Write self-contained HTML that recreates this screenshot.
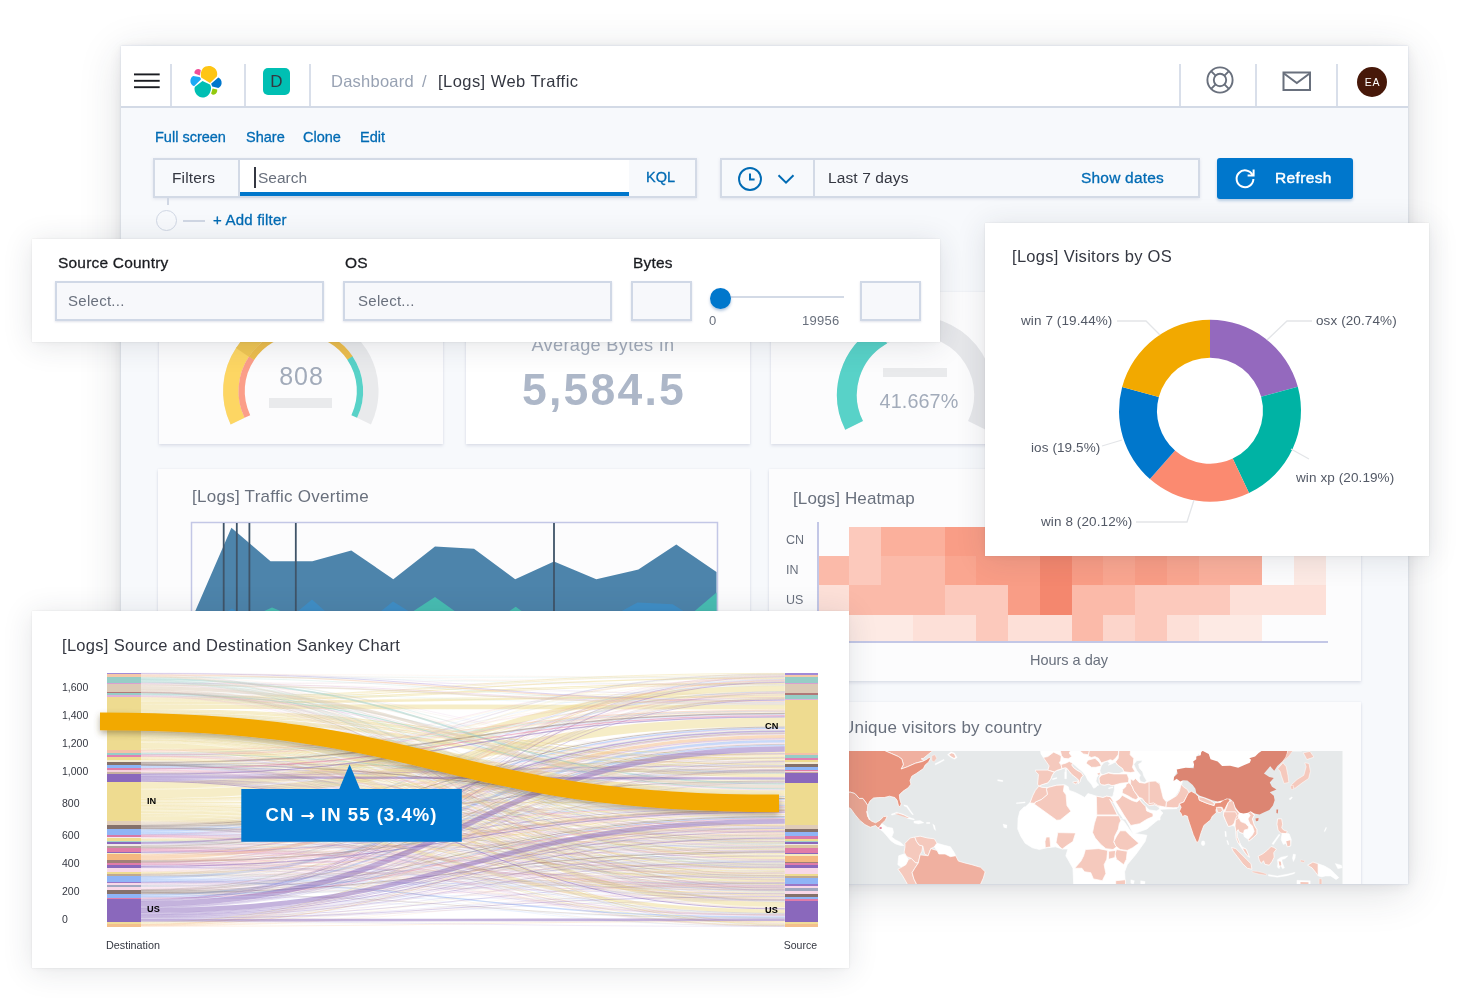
<!DOCTYPE html>
<html lang="en">
<head>
<meta charset="utf-8">
<title>[Logs] Web Traffic - Dashboard</title>
<style>
*{box-sizing:border-box;margin:0;padding:0}
html,body{width:1460px;height:1000px;background:#fff;overflow:hidden}
body{position:relative;font-family:"Liberation Sans",sans-serif;color:#343741;-webkit-font-smoothing:antialiased}
.abs{position:absolute}
.t{position:absolute;white-space:nowrap;line-height:1;will-change:transform}
.win{position:absolute;left:121px;top:46px;width:1287px;height:838px;background:#f7f9fc;overflow:hidden}
.winshadow{position:absolute;left:121px;top:46px;width:1287px;height:838px;box-shadow:0 0 2px rgba(165,180,212,.5),0 8px 40px rgba(40,45,60,.15),0 2px 12px rgba(40,45,60,.07)}
.inner{position:absolute;left:-121px;top:-46px;width:1460px;height:1000px}
.hdr{position:absolute;left:121px;top:46px;width:1287px;height:60px;background:#fff}
.hdrline{position:absolute;left:121px;top:106px;width:1287px;height:2px;background:#d3dae6}
.vsep{position:absolute;width:2px;top:64px;height:42px;background:#d9dfea}
.link{color:#006bb4;font-size:14.5px;-webkit-text-stroke:.3px #006bb4}
.panel{position:absolute;background:#fcfcfd;box-shadow:0 2px 3px rgba(130,140,170,.2),0 0 2px rgba(130,140,170,.12)}
.float{position:absolute;background:#fff;box-shadow:0 0 1px rgba(90,95,110,.2),0 3px 28px rgba(40,45,60,.125),0 1px 6px rgba(40,45,60,.04)}
.ptitle{font-size:16.5px;color:#69707d}
.box{position:absolute;background:#f7f8fb;border:2px solid #d0d8e6;box-shadow:0 1px 2px rgba(130,140,170,.25)}
</style>
</head>
<body>
<div class="winshadow"></div>
<div class="win"><div class="inner">
<!-- header -->
<div class="hdr"></div><div class="hdrline"></div>
<svg class="abs" style="left:134px;top:72px" width="26" height="18" viewBox="0 0 26 18"><g stroke="#1a1c21" stroke-width="1.9"><line x1="0" y1="2.4" x2="25.7" y2="2.4"/><line x1="0" y1="8.8" x2="25.7" y2="8.8"/><line x1="0" y1="15.2" x2="25.7" y2="15.2"/></g></svg>
<div class="vsep" style="left:170px"></div>
<div class="vsep" style="left:244px"></div>
<div class="vsep" style="left:309px"></div>
<svg class="abs" style="left:184px;top:60px" width="44" height="44" viewBox="0 0 44 44">
<path d="M17.2 17.6C16.3 14 16.9 10.6 19 8.3C21.6 5.4 27 5 30.5 8C33 10.2 33.9 13.6 32.8 16.6L26 22.9Z" fill="#fec514"/>
<path d="M18.5 21.1L26 24.6C27 26 27.3 28 26.7 30.5C25.6 35 22 37.8 18.5 37.6C14 37.3 10.3 33 10.5 28.2L11 26.8Z" fill="#00bfb3"/>
<path d="M10.6 13.6C9.9 11.5 11.4 9.4 14 9C15.5 8.8 16.5 9.6 16.8 10.6L15.8 15.4Z" fill="#f04e98"/>
<path d="M9.2 16.1L15.4 16.9C16.5 17.5 17 18.5 16.9 19.4L10.1 26.2C8 25.5 6.3 23.2 6.4 21C6.5 18.6 7.6 16.8 9.2 16.1Z" fill="#1ba9f5"/>
<path d="M34.3 17.6C36.5 18.5 37.9 21 37.6 23.6C37.4 25.6 36 27.3 34.3 27.9L28.2 26.4L27.1 23.8Z" fill="#0077cc"/>
<path d="M28.6 28.6L33.2 29.5C33.6 31.5 32.5 33.8 30.5 34.6C29.3 35 28 34.5 27.1 33.4Z" fill="#93c90e"/>
</svg>
<div class="abs" style="left:263px;top:68px;width:27px;height:27px;border-radius:5px;background:#00bfb3"></div>
<div class="t" style="left:263px;top:73px;width:27px;text-align:center;font-size:17px;color:#343741">D</div>
<div class="t" id="bc1" style="left:331px;top:73px;font-size:16.5px;color:#98a2b3;letter-spacing:.25px">Dashboard</div>
<div class="t" style="left:422px;top:73px;font-size:16.5px;color:#98a2b3">/</div>
<div class="t" id="bc2" style="left:438px;top:73px;font-size:16.5px;color:#343741;letter-spacing:.45px">[Logs] Web Traffic</div>
<div class="vsep" style="left:1179px"></div>
<div class="vsep" style="left:1255px"></div>
<div class="vsep" style="left:1336px"></div>
<svg class="abs" style="left:1204px;top:64px" width="32" height="32" viewBox="0 0 32 32" fill="none" stroke="#69707d" stroke-width="1.9">
<circle cx="16" cy="16" r="12.6"/><circle cx="16" cy="16" r="6.2"/>
<path d="M7.1 7.1l4.5 4.5M24.9 7.1l-4.5 4.5M7.1 24.9l4.5-4.5M24.9 24.9l-4.5-4.5"/>
</svg>
<svg class="abs" style="left:1282px;top:70.5px" width="30" height="22" viewBox="0 0 30 22" fill="none" stroke="#69707d" stroke-width="2">
<rect x="1.5" y="1.5" width="26.5" height="17.5"/><path d="M2 2.5l12.8 9.6L27.6 2.5"/>
</svg>
<div class="abs" style="left:1357px;top:66.5px;width:30px;height:30px;border-radius:50%;background:#471809"></div>
<div class="t" style="left:1357px;top:76.5px;width:30px;text-align:center;font-size:10.5px;color:#fff;letter-spacing:.8px;padding-left:1px">EA</div>
<!-- toolbar -->
<div class="t link" style="left:155px;top:130px" id="l1">Full screen</div>
<div class="t link" style="left:246px;top:130px" id="l2">Share</div>
<div class="t link" style="left:303px;top:130px" id="l3">Clone</div>
<div class="t link" style="left:360px;top:130px" id="l4">Edit</div>
<!-- query bar -->
<div class="abs" style="left:153px;top:158px;width:544px;height:40px;background:#f7f9fc;border:2px solid #d3dae6;box-shadow:0 1px 3px rgba(120,130,160,.18)"></div>
<div class="abs" style="left:239px;top:160px;width:390px;height:36px;background:#fff"></div>
<div class="abs" style="left:238px;top:160px;width:2px;height:36px;background:#d3dae6"></div>
<div class="abs" style="left:240px;top:192px;width:389px;height:4px;background:#0077cc"></div>
<div class="abs" style="left:254px;top:167px;width:2px;height:20.5px;background:#343741"></div>
<div class="t" style="left:172px;top:170px;font-size:15.5px;color:#343741;letter-spacing:.15px">Filters</div>
<div class="t" style="left:258px;top:170px;font-size:15.5px;color:#69707d">Search</div>
<div class="t" style="left:646px;top:170px;font-size:14.5px;color:#006bb4;-webkit-text-stroke:.3px #006bb4">KQL</div>
<div class="abs" style="left:166.8px;top:198px;width:1.8px;height:7px;background:#d0d7e4"></div>
<div class="abs" style="left:156px;top:210px;width:21px;height:21px;border-radius:50%;border:1.8px solid #d0d7e4;background:#f7f9fc"></div>
<div class="abs" style="left:183px;top:219.8px;width:22px;height:1.8px;background:#d0d7e4"></div>
<div class="t link" style="left:213px;top:211.7px;font-size:15px;letter-spacing:.2px">+ Add filter</div>
<!-- date picker -->
<div class="abs" style="left:720px;top:158px;width:480px;height:40px;background:#f7f9fc;border:2px solid #d3dae6;box-shadow:0 1px 3px rgba(120,130,160,.18)"></div>
<div class="abs" style="left:813px;top:160px;width:2px;height:36px;background:#d3dae6"></div>
<svg class="abs" style="left:736px;top:165px" width="28" height="28" viewBox="0 0 28 28" fill="none" stroke="#006bb4" stroke-width="1.9"><circle cx="14" cy="14" r="11"/><path d="M14 8.5v6h4.6" stroke-width="2"/></svg>
<svg class="abs" style="left:777px;top:173px" width="18" height="12" viewBox="0 0 18 12" fill="none" stroke="#006bb4" stroke-width="2"><path d="M1.5 2.2l7.5 7.4 7.5-7.4"/></svg>
<div class="t" style="left:828px;top:170px;font-size:15.5px;color:#343741;letter-spacing:.12px">Last 7 days</div>
<div class="t" style="left:1081px;top:170px;font-size:15.5px;color:#006bb4;letter-spacing:.2px;-webkit-text-stroke:.3px #006bb4">Show dates</div>
<div class="abs" style="left:1217px;top:158px;width:136px;height:40.5px;border-radius:3px;background:#0077cc;box-shadow:0 2px 3px rgba(0,80,160,.25)"></div>
<svg class="abs" style="left:1233px;top:166px" width="24" height="24" viewBox="0 0 24 24" fill="none" stroke="#fff" stroke-width="2"><path d="M19.6 9.2A8.4 8.4 0 1 0 20.4 13"/><path d="M20.6 3.5v6h-6" stroke-linejoin="miter"/></svg>
<div class="t" style="left:1275px;top:169.5px;font-size:15.5px;color:#fff;-webkit-text-stroke:.45px #fff;letter-spacing:.35px" id="refresh">Refresh</div>
<div class="panel" style="left:159px;top:292px;width:284px;height:151.5px"></div>
<div class="panel" style="left:466px;top:292px;width:284px;height:151.5px;background:#fff"></div>
<div class="panel" style="left:771px;top:292px;width:590px;height:151.5px"></div>
<svg class="abs" style="left:0;top:0" width="1460" height="1000" viewBox="0 0 1460 1000"><path d="M237.62 421.14A70.0 70.0 0 1 1 363.98 421.14" stroke="#e9eaec" stroke-width="15.5" fill="none"/><path d="M237.62 421.14A70.0 70.0 0 0 1 242.77 351.86" stroke="#fdd663" stroke-width="15.5" fill="none"/><path d="M242.43 352.36A70.0 70.0 0 0 1 335.80 330.38" stroke="#efc552" stroke-width="15.5" fill="none"/><path d="M247.37 416.49A59.2 59.2 0 0 1 251.72 357.90" stroke="#fb9e89" stroke-width="6.3" fill="none"/><path d="M251.43 358.33A59.2 59.2 0 0 1 350.17 358.33" stroke="#ecbd4c" stroke-width="6.3" fill="none"/><path d="M349.88 357.90A59.2 59.2 0 0 1 354.23 416.49" stroke="#58d2c8" stroke-width="6.3" fill="none"/><path d="M854.11 425.41A68.6 68.6 0 1 1 976.89 425.41" stroke="#e6e7ea" stroke-width="19.8" fill="none"/><path d="M854.11 425.41A68.6 68.6 0 0 1 882.24 334.80" stroke="#58d2c8" stroke-width="19.8" fill="none"/></svg>
<div class="t" style="left:250.8px;top:363.8px;width:100px;text-align:center;font-size:25px;color:#a2abba;letter-spacing:.95px;padding-left:1px">808</div>
<div class="abs" style="left:269px;top:398px;width:63px;height:9.8px;background:#e9eaec"></div>
<div class="abs" style="left:883px;top:368px;width:64px;height:9px;background:#e9eaec"></div>
<div class="t" style="left:859px;top:391.5px;width:120px;text-align:center;font-size:19.8px;color:#a2abba;letter-spacing:.1px">41.667%</div>
<div class="t" style="left:503px;top:335.5px;width:200px;text-align:center;font-size:18.2px;color:#a2abba;letter-spacing:.3px">Average Bytes In</div>
<div class="t" style="left:453px;top:368.2px;width:300px;text-align:center;font-size:44.5px;font-weight:bold;color:#adb7c8;letter-spacing:2.2px;padding-left:2px">5,584.5</div>
<div class="panel" style="left:157.5px;top:469px;width:592.5px;height:220px"></div>
<div class="t ptitle" style="left:191.5px;top:487.5px;font-size:17px;letter-spacing:.27px" id="tt1">[Logs] Traffic Overtime</div>
<svg class="abs" style="left:0;top:0" width="1460" height="700" viewBox="0 0 1460 700"><rect x="191.5" y="522.5" width="526" height="140" fill="none" stroke="#c3c7e6" stroke-width="1.5"/><polygon points="195.3,611 231.4,527.8 270.5,561.2 312.3,561.2 351.3,550.5 393.3,579.2 435,546.6 474,548.8 515.2,579.3 554,561.5 596.3,579.3 638.4,569.6 676.3,544.4 716.5,572 716.5,660 186,660 " fill="#4d84ab"/><polygon points="226,612 231.8,608.6 238,612" fill="#3f8ec6"/><polygon points="297,612 312,599.4 326,612" fill="#3f8ec6"/><polygon points="380,612 393,601.6 410,612" fill="#3f8ec6"/><polygon points="620,612 637.6,602.4 672.7,604.2 685,612" fill="#3f8ec6"/><polygon points="262,612 272,607.6 283,612" fill="#47bdb2"/><polygon points="412,612 435,597 456,612" fill="#47bdb2"/><polygon points="508,612 515.7,606.8 523,612" fill="#47bdb2"/><polygon points="693.5,612 716.5,592.5 716.5,640 693.5,640" fill="#47bdb2"/><line x1="223.7" y1="523" x2="223.7" y2="640" stroke="#3f5468" stroke-width="1.8"/><line x1="236.8" y1="523" x2="236.8" y2="640" stroke="#3f5468" stroke-width="1.8"/><line x1="249.4" y1="523" x2="249.4" y2="640" stroke="#3f5468" stroke-width="1.8"/><line x1="295.8" y1="523" x2="295.8" y2="640" stroke="#3f5468" stroke-width="1.8"/><line x1="554" y1="523" x2="554" y2="640" stroke="#3f5468" stroke-width="1.8"/></svg>
<div class="panel" style="left:769px;top:469px;width:592px;height:212px"></div>
<div class="t ptitle" style="left:793px;top:489.5px;font-size:17px;letter-spacing:.13px" id="tt2">[Logs] Heatmap</div>
<div class="t" style="left:786px;top:534px;font-size:12.5px;color:#69707d">CN</div>
<div class="t" style="left:786px;top:564px;font-size:12.5px;color:#69707d">IN</div>
<div class="t" style="left:786px;top:594px;font-size:12.5px;color:#69707d">US</div>
<div class="t" style="left:969px;top:653px;width:200px;text-align:center;font-size:14.5px;color:#69707d" id="hours">Hours a day</div>
<svg class="abs" style="left:0;top:0" width="1460" height="700" viewBox="0 0 1460 700" shape-rendering="crispEdges"><rect x="849.35" y="526.5" width="32.05" height="29.80" fill="#fcc9bc"/><rect x="881.10" y="526.5" width="32.05" height="29.80" fill="#fbb09c"/><rect x="912.85" y="526.5" width="32.05" height="29.80" fill="#fbb09c"/><rect x="944.60" y="526.5" width="32.05" height="29.80" fill="#f99d86"/><rect x="976.35" y="526.5" width="32.05" height="29.80" fill="#f99d86"/><rect x="1008.10" y="526.5" width="32.05" height="29.80" fill="#f99d86"/><rect x="1039.85" y="526.5" width="32.05" height="29.80" fill="#f99d86"/><rect x="1071.60" y="526.5" width="32.05" height="29.80" fill="#f99d86"/><rect x="1103.35" y="526.5" width="32.05" height="29.80" fill="#f99d86"/><rect x="1135.10" y="526.5" width="32.05" height="29.80" fill="#f99d86"/><rect x="1166.85" y="526.5" width="32.05" height="29.80" fill="#f99d86"/><rect x="1198.60" y="526.5" width="32.05" height="29.80" fill="#f99d86"/><rect x="1230.35" y="526.5" width="32.05" height="29.80" fill="#f99d86"/><rect x="1262.10" y="526.5" width="32.05" height="29.80" fill="#f99d86"/><rect x="1293.85" y="526.5" width="32.05" height="29.80" fill="#f99d86"/><rect x="817.60" y="556" width="32.05" height="29.60" fill="#fbbaa9"/><rect x="849.35" y="556" width="32.05" height="29.60" fill="#fcc9bc"/><rect x="881.10" y="556" width="32.05" height="29.60" fill="#fbbaa9"/><rect x="912.85" y="556" width="32.05" height="29.60" fill="#fbbaa9"/><rect x="944.60" y="556" width="32.05" height="29.60" fill="#faa690"/><rect x="976.35" y="556" width="32.05" height="29.60" fill="#f99d86"/><rect x="1008.10" y="556" width="32.05" height="29.60" fill="#f99d86"/><rect x="1039.85" y="556" width="32.05" height="29.60" fill="#f4876e"/><rect x="1071.60" y="556" width="32.05" height="29.60" fill="#f99d86"/><rect x="1103.35" y="556" width="32.05" height="29.60" fill="#faa690"/><rect x="1135.10" y="556" width="32.05" height="29.60" fill="#f99d86"/><rect x="1166.85" y="556" width="32.05" height="29.60" fill="#faa690"/><rect x="1198.60" y="556" width="32.05" height="29.60" fill="#fbb09c"/><rect x="1230.35" y="556" width="32.05" height="29.60" fill="#fbb09c"/><rect x="1293.85" y="556" width="32.05" height="29.60" fill="#fdeae4"/><rect x="817.60" y="585.3" width="32.05" height="29.80" fill="#fde0d8"/><rect x="849.35" y="585.3" width="32.05" height="29.80" fill="#fbbaa9"/><rect x="881.10" y="585.3" width="32.05" height="29.80" fill="#fbbaa9"/><rect x="912.85" y="585.3" width="32.05" height="29.80" fill="#fbbaa9"/><rect x="944.60" y="585.3" width="32.05" height="29.80" fill="#fcc9bc"/><rect x="976.35" y="585.3" width="32.05" height="29.80" fill="#fcc9bc"/><rect x="1008.10" y="585.3" width="32.05" height="29.80" fill="#f99d86"/><rect x="1039.85" y="585.3" width="32.05" height="29.80" fill="#f4876e"/><rect x="1071.60" y="585.3" width="32.05" height="29.80" fill="#fbbaa9"/><rect x="1103.35" y="585.3" width="32.05" height="29.80" fill="#fbbaa9"/><rect x="1135.10" y="585.3" width="32.05" height="29.80" fill="#fcc9bc"/><rect x="1166.85" y="585.3" width="32.05" height="29.80" fill="#fcc9bc"/><rect x="1198.60" y="585.3" width="32.05" height="29.80" fill="#fcc9bc"/><rect x="1230.35" y="585.3" width="32.05" height="29.80" fill="#fde0d8"/><rect x="1262.10" y="585.3" width="32.05" height="29.80" fill="#fde0d8"/><rect x="1293.85" y="585.3" width="32.05" height="29.80" fill="#fde0d8"/><rect x="817.60" y="614.8" width="32.05" height="27.50" fill="#fdeae4"/><rect x="849.35" y="614.8" width="32.05" height="27.50" fill="#fdeae4"/><rect x="881.10" y="614.8" width="32.05" height="27.50" fill="#fdeae4"/><rect x="912.85" y="614.8" width="32.05" height="27.50" fill="#fde0d8"/><rect x="944.60" y="614.8" width="32.05" height="27.50" fill="#fde0d8"/><rect x="976.35" y="614.8" width="32.05" height="27.50" fill="#fcc9bc"/><rect x="1008.10" y="614.8" width="32.05" height="27.50" fill="#fde0d8"/><rect x="1039.85" y="614.8" width="32.05" height="27.50" fill="#fde0d8"/><rect x="1071.60" y="614.8" width="32.05" height="27.50" fill="#fbbaa9"/><rect x="1103.35" y="614.8" width="32.05" height="27.50" fill="#fcd5cb"/><rect x="1135.10" y="614.8" width="32.05" height="27.50" fill="#fcc9bc"/><rect x="1166.85" y="614.8" width="32.05" height="27.50" fill="#fde0d8"/><rect x="1198.60" y="614.8" width="32.05" height="27.50" fill="#fdeae4"/><rect x="1230.35" y="614.8" width="32.05" height="27.50" fill="#fdeae4"/><line x1="817.6" y1="522" x2="817.6" y2="642" stroke="#c3c7e6" stroke-width="2"/><line x1="817" y1="642.3" x2="1328" y2="642.3" stroke="#c3c7e6" stroke-width="2"/></svg>
<div class="panel" style="left:769px;top:702px;width:592px;height:230px"></div>
<div class="t ptitle" style="left:842px;top:718.5px;font-size:17px;letter-spacing:.2px" id="tt3">Unique visitors by country</div>
<svg class="abs" style="left:770px;top:751px" width="572.5" height="134" viewBox="770 751 572.5 134">
<rect x="770" y="751" width="572.5" height="134" fill="#e6e9ea"/>
<g transform="translate(1040,740) scale(0.178082)" stroke="#fff" stroke-width="4" stroke-linejoin="round">
<polygon points="-63.0,355.0 -38.0,320.0 -13.0,290.0 27.0,262.0 137.0,248.0 420.0,248.0 470.0,300.0 560.0,330.0 600.0,380.0 640.0,420.0 660.0,380.0 690.0,410.0 660.0,450.0 600.0,500.0 530.0,525.0 600.0,535.0 590.0,570.0 540.0,640.0 490.0,700.0 475.0,740.0 480.0,830.0 190.0,830.0 185.0,720.0 145.0,650.0 157.0,612.0 127.0,612.0 87.0,600.0 37.0,605.0 -3.0,615.0 -43.0,605.0 -83.0,580.0 -108.0,540.0 -125.0,500.0 -123.0,440.0 -113.0,400.0 -88.0,375.0" fill="#ffffff"/>
<polygon points="-1.1,48.1 673.9,48.1 673.9,449.1 -1.1,449.1" fill="#ffffff"/>
<polygon points="660.0,40.0 1470.0,40.0 1470.0,62.0 1260.0,62.0 900.0,62.0 880.0,90.0 875.0,120.0 860.0,150.0 790.0,160.0 765.0,180.0 750.0,210.0 770.0,225.0 800.0,230.0 795.0,250.0 770.0,300.0 745.0,330.0 705.0,345.0 715.0,375.0 770.0,385.0 660.0,390.0" fill="#ffffff"/>
<polygon points="880.0,40.0 1395.0,40.0 1390.0,70.0 1300.0,150.0 1120.0,170.0 1000.0,150.0 900.0,100.0" fill="#ffffff"/>
<polygon points="987.6,348.1 1027.7,338.1 1052.7,328.1 1067.7,343.1 1052.7,378.1 1017.6,378.1 990.1,378.1" fill="#ffffff"/>
<polygon points="1032.6,393.1 1207.6,393.1 1202.6,423.1 1192.6,443.1 1202.6,478.1 1217.6,503.1 1217.6,528.0 1197.6,548.0 1172.6,568.0 1170.1,558.0 1147.6,543.0 1142.6,525.5 1120.1,518.0 1112.6,503.1 1105.1,513.0 1107.6,543.0 1115.1,563.0 1125.1,585.5 1137.6,603.0 1157.6,613.0 1167.6,638.0 1175.1,658.0 1162.6,648.0 1147.6,628.0 1132.6,608.0 1112.6,578.0 1102.6,553.0 1100.1,513.0 1095.1,483.1 1077.6,480.6 1057.6,485.6 1042.6,453.1 1030.1,423.1" fill="#ffffff"/>
<polygon points="-56.1,48.1 -1.1,48.1 3.9,78.1 18.9,100.6 41.4,95.6 51.4,145.6 43.9,169.1 -26.1,169.1 -36.1,178.1 -38.6,228.1 -33.6,248.1 -6.1,259.1 -26.1,283.1 -41.1,313.1 -56.1,348.1 -86.2,378.1 -86.2,48.1" fill="#e6e9ea" stroke-width="0"/>
<polygon points="-6.1,259.1 8.9,251.6 43.9,240.6 59.9,220.6 68.8,198.1 79.8,180.6 93.8,172.1 118.8,164.1 141.3,155.6 151.3,159.1 163.8,175.6 178.8,193.1 203.8,213.1 217.8,225.6 214.8,244.1 223.8,235.6 231.3,210.6 242.8,200.6 231.3,183.1 208.8,170.6 188.8,155.6 177.8,140.6 178.8,130.6 188.8,135.6 208.8,153.1 238.8,178.1 256.4,200.6 268.9,225.6 288.9,248.1 301.4,270.6 316.4,263.1 323.9,248.1 313.9,230.6 318.9,210.6 328.9,195.6 338.9,190.6 331.4,213.1 333.9,238.1 343.9,250.6 363.9,253.1 383.9,248.1 403.9,255.6 418.9,253.1 417.9,278.1 411.4,308.1 406.4,320.6 393.9,318.1 373.9,315.6 353.9,323.1 316.4,315.6 293.9,308.1 268.9,300.6 251.3,323.1 223.8,308.1 193.8,293.1 163.8,283.1 158.8,263.1 141.3,253.1 136.3,252.1 93.8,254.1 58.9,263.1 38.9,268.1 8.9,265.6" fill="#e6e9ea"/>
<polygon points="343.9,145.6 358.9,125.6 378.9,118.1 393.9,133.1 383.9,140.6 398.9,135.6 423.9,123.1 436.4,140.6 463.9,160.6 471.4,178.1 443.9,188.1 413.9,188.1 383.9,183.1 353.9,195.6 338.9,188.1 336.4,170.6" fill="#e6e9ea"/>
<polygon points="526.4,135.6 543.9,115.6 573.9,113.1 571.4,125.6 553.9,135.6 558.9,158.1 576.4,178.1 583.9,203.1 598.9,228.1 588.9,240.6 563.9,233.1 556.4,213.1 563.9,198.1 543.9,173.1 533.9,153.1" fill="#e6e9ea"/>
<polygon points="388.9,333.1 398.9,328.1 411.4,348.1 443.9,408.1 468.9,443.1 483.9,453.1 453.9,453.1 436.4,423.1 418.9,388.1 398.9,353.1" fill="#e6e9ea"/>
<polygon points="440.0,440.0 480.0,445.0 500.0,480.0 525.0,530.0 505.0,505.0 470.0,455.0" fill="#e6e9ea"/>
<polygon points="558.9,333.1 573.9,328.1 588.9,348.1 613.9,368.1 643.9,363.1 663.9,373.1 673.9,388.1 653.9,398.1 613.9,393.1 593.9,373.1 573.9,353.1" fill="#e6e9ea"/>
<polygon points="138.8,178.1 148.8,178.1 148.8,218.1 138.8,218.1" fill="#ffffff" stroke-width="2"/>
<polygon points="141.3,162.1 148.8,162.1 148.8,177.1 142.3,177.1" fill="#ffffff" stroke-width="2"/>
<polygon points="293.9,248.1 328.9,249.1 328.9,256.1 293.9,255.1" fill="#ffffff" stroke-width="2"/>
<polygon points="383.9,269.1 408.9,263.1 409.9,268.1 386.4,274.1" fill="#ffffff" stroke-width="2"/>
<polygon points="68.8,218.1 93.8,210.6 94.8,215.6 71.3,223.1" fill="#ffffff" stroke-width="2"/>
<polygon points="18.9,98.1 43.9,93.1 76.3,68.1 108.8,83.1 118.8,93.1 116.3,115.6 108.8,128.1 118.8,140.6 123.8,160.6 93.8,170.6 79.8,179.6 51.4,170.6 43.9,169.1 51.4,145.6" fill="#f5c9bd"/>
<polygon points="-26.1,169.1 43.9,169.1 51.4,171.6 79.8,180.6 68.8,198.1 59.9,220.6 43.9,240.6 8.9,251.6 -6.1,259.1 -13.6,248.1 -8.6,193.1 -23.6,178.1" fill="#f5c9bd"/>
<polygon points="111.3,48.1 178.8,48.1 163.8,73.1 178.8,93.1 158.8,105.6 133.8,103.1 121.3,88.1" fill="#f5c9bd"/>
<polygon points="123.8,135.6 143.8,130.6 163.8,120.6 183.8,130.6 177.8,140.6 188.8,155.6 208.8,170.6 231.3,183.1 242.8,200.6 231.3,210.6 223.8,235.6 214.8,244.1 217.8,225.6 203.8,213.1 178.8,193.1 163.8,175.6 151.3,159.1 141.3,155.6 123.8,160.6 118.8,140.6" fill="#f5c9bd"/>
<polygon points="183.8,235.6 213.8,230.6 203.8,248.1 188.8,243.1" fill="#f5c9bd"/>
<polygon points="208.8,48.1 283.9,48.1 271.4,83.1 243.8,78.1" fill="#f5c9bd"/>
<polygon points="278.9,48.1 443.9,48.1 438.9,83.1 423.9,103.1 408.9,115.6 393.9,110.6 378.9,117.1 358.9,123.1 343.9,128.1 328.9,103.1 308.9,93.1 288.9,98.1 271.4,90.6" fill="#f5c9bd"/>
<polygon points="268.9,113.1 308.9,103.1 331.4,123.1 343.9,143.1 336.4,148.1 313.9,153.1 288.9,153.1 258.9,130.6" fill="#f5c9bd"/>
<polygon points="443.9,48.1 508.9,48.1 506.4,83.1 526.4,103.1 523.9,135.6 518.9,153.1 533.9,178.1 508.9,183.1 471.4,178.1 463.9,160.6 436.4,140.6 423.9,123.1 438.9,103.1" fill="#f5c9bd"/>
<polygon points="331.4,213.1 343.9,198.1 383.9,185.6 413.9,190.6 443.9,190.6 488.9,190.6 498.9,218.1 496.4,238.1 453.9,243.1 418.9,253.1 403.9,255.6 383.9,248.1 363.9,253.1 343.9,250.6 333.9,238.1" fill="#f5c9bd"/>
<polygon points="321.4,187.1 336.4,184.1 338.9,194.1 326.4,197.1" fill="#f5c9bd" stroke-width="2"/>
<polygon points="498.9,240.6 508.9,248.1 518.9,263.1 526.4,283.1 543.9,308.1 551.4,323.1 538.9,335.6 518.9,328.1 493.9,313.1 461.4,298.1 463.9,278.1 481.4,263.1 483.9,248.1" fill="#f5c9bd"/>
<polygon points="508.9,218.1 523.9,228.1 536.4,215.6 556.4,238.1 588.9,243.1 613.9,233.1 643.9,230.6 673.9,243.1 673.9,373.1 663.9,373.1 643.9,363.1 613.9,368.1 588.9,348.1 573.9,328.1 558.9,323.1 551.4,315.6 526.4,283.1 518.9,263.1 508.9,248.1" fill="#f5c9bd"/>
<polygon points="612.6,233.1 647.6,230.6 672.6,248.1 682.6,288.1 692.6,328.1 710.1,348.1 707.6,378.1 662.6,368.1 637.6,353.1 612.6,358.1" fill="#f5c9bd"/>
<polygon points="423.9,345.6 448.9,328.1 461.4,310.6 493.9,328.1 518.9,340.6 543.9,348.1 558.9,335.6 573.9,353.1 593.9,373.1 598.9,398.1 633.9,413.1 635.0,430.0 600.0,445.0 560.0,470.0 510.0,480.0 490.0,450.0 470.0,420.0 455.0,395.0" fill="#f5c9bd"/>
<polygon points="316.4,315.6 353.9,323.1 373.9,315.6 393.9,318.1 401.4,328.1 413.9,348.1 403.9,348.1 391.4,333.1 413.9,378.1 433.9,420.6 318.9,420.6" fill="#f5c9bd"/>
<polygon points="318.9,425.6 443.9,425.6 453.9,453.1 445.0,470.0 440.0,500.0 420.0,540.0 415.0,575.0 430.0,600.0 410.0,615.0 370.0,610.0 340.0,585.0 310.0,550.0 295.0,520.0 305.0,470.0" fill="#f5c9bd"/>
<polygon points="38.9,268.1 58.9,263.1 93.8,254.1 136.3,252.1 131.3,288.1 146.3,308.1 151.3,368.1 173.8,400.6 113.8,449.1 93.8,450.6 -31.1,360.6 -26.1,348.1 8.9,333.1 41.4,305.6 36.4,278.1" fill="#f5c9bd"/>
<polygon points="-6.1,259.1 8.9,265.6 38.9,268.1 36.4,278.1 41.4,305.6 8.9,333.1 -26.1,348.1 -31.1,355.6 -56.1,353.1 -41.1,313.1 -26.1,283.1" fill="#f5c9bd"/>
<polygon points="100.0,520.0 200.0,522.0 185.0,570.0 155.0,590.0 125.0,612.0 110.0,600.0 90.0,575.0" fill="#f5c9bd"/>
<polygon points="35.0,545.0 55.0,545.0 60.0,600.0 30.0,605.0 28.0,570.0" fill="#f5c9bd"/>
<polygon points="450.0,510.0 480.0,510.0 510.0,540.0 555.0,580.0 520.0,605.0 490.0,620.0 450.0,615.0 425.0,595.0 415.0,570.0 430.0,540.0" fill="#f5c9bd"/>
<polygon points="430.0,615.0 490.0,625.0 485.0,670.0 470.0,700.0 430.0,670.0 420.0,640.0" fill="#f5c9bd"/>
<polygon points="385.0,625.0 425.0,620.0 420.0,660.0 385.0,670.0" fill="#f5c9bd"/>
<polygon points="255.0,615.0 330.0,610.0 380.0,620.0 375.0,670.0 360.0,700.0 370.0,750.0 350.0,790.0 300.0,780.0 285.0,745.0 250.0,740.0 235.0,720.0 195.0,720.0 230.0,680.0 245.0,650.0" fill="#f5c9bd"/>
<polygon points="425.0,790.0 480.0,785.0 480.0,830.0 425.0,830.0" fill="#f5c9bd"/>
<polygon points="510.0,785.0 530.0,790.0 525.0,810.0 510.0,805.0" fill="#ffffff" stroke-width="2"/>
<polygon points="565.0,790.0 590.0,795.0 585.0,830.0 565.0,830.0" fill="#ffffff" stroke-width="2"/>
<polygon points="792.6,248.1 805.1,263.1 827.6,278.1 837.6,298.1 822.6,318.1 807.6,348.1 782.6,358.1 777.6,378.1 747.6,380.6 707.6,378.1 710.1,348.1 742.6,328.1 767.6,313.1 782.6,288.1" fill="#f5c9bd"/>
<polygon points="850.1,288.1 872.6,300.6 890.1,318.1 895.1,338.1 937.6,355.6 977.6,368.1 982.6,353.1 1012.6,350.6 1032.7,335.6 1057.7,328.1 1067.7,343.1 1052.7,358.1 1042.7,378.1 1032.7,398.1 1022.6,378.1 1002.6,378.1 987.6,390.6 990.1,408.1 967.6,428.1 957.6,449.1 950.0,455.0 920.0,480.0 905.0,520.0 890.0,570.0 880.0,575.0 860.0,530.0 840.0,470.0 833.0,449.0 832.6,449.1 827.6,428.1 812.6,423.1 800.1,430.6 792.6,413.1 782.6,400.6 792.6,378.1 782.6,358.1 807.6,348.1 822.6,318.1 832.6,298.1" fill="#e8927c"/>
<polygon points="890.1,318.1 917.6,323.1 957.6,340.6 977.6,353.1 977.6,368.1 937.6,355.6 895.1,338.1" fill="#f5c9bd"/>
<polygon points="990.1,378.1 1017.6,378.1 1025.2,395.6 1012.6,408.1 997.6,405.6" fill="#f5c9bd"/>
<ellipse cx="916" cy="580" rx="10" ry="14" fill="#fff" stroke-width="2"/>
<polygon points="1057.7,348.1 1082.7,338.1 1090.2,363.1 1097.7,388.1 1117.7,413.1 1112.7,428.1 1117.7,449.1 1052.7,449.1 1042.7,428.1 1035.2,408.1 1047.7,378.1" fill="#f5c9bd"/>
<polygon points="1032.6,403.1 1097.6,403.1 1107.6,423.1 1097.6,443.1 1090.1,468.1 1077.6,480.6 1057.6,485.6 1042.6,453.1 1030.1,423.1" fill="#f5c9bd"/>
<polygon points="1097.6,448.1 1117.6,438.1 1127.6,458.1 1152.6,468.1 1172.6,488.1 1167.6,500.6 1147.6,505.6 1142.6,525.5 1120.1,518.0 1112.6,503.1 1105.1,513.0 1107.6,543.0 1115.1,563.0 1125.1,585.5 1112.6,578.0 1102.6,553.0 1100.1,513.0 1095.1,483.1" fill="#f5c9bd"/>
<polygon points="1167.6,408.1 1182.6,403.1 1202.6,423.1 1192.6,443.1 1202.6,478.1 1217.6,503.1 1217.6,528.0 1197.6,548.0 1172.6,568.0 1170.1,558.0 1192.6,533.0 1202.6,513.0 1192.6,483.1 1177.6,468.1 1167.6,443.1 1180.1,423.1" fill="#f5c9bd"/>
<polygon points="1135.1,605.5 1157.6,613.0 1167.6,638.0 1175.1,658.0 1162.6,648.0 1147.6,628.0" fill="#f5c9bd"/>
<polygon points="1075.1,603.0 1100.1,610.5 1130.1,640.5 1160.1,670.5 1185.1,695.5 1190.1,725.5 1165.1,720.5 1138.6,695.5 1108.6,655.5 1084.1,624.0" fill="#f5c9bd"/>
<polygon points="1190.1,735.5 1222.6,738.0 1252.6,745.5 1272.6,753.0 1270.1,759.0 1232.6,754.0 1192.6,743.0" fill="#f5c9bd" stroke-width="2"/>
<polygon points="1282.6,755.5 1332.6,763.0 1392.6,753.0 1432.6,743.0 1427.6,750.5 1382.6,763.0 1332.6,770.5 1282.6,763.0" fill="#ffffff" stroke-width="2"/>
<polygon points="1225.1,653.0 1252.6,638.0 1277.6,618.0 1297.6,598.0 1312.6,603.0 1327.6,613.0 1312.6,633.0 1315.1,658.0 1302.6,683.0 1287.6,703.0 1262.6,698.0 1255.1,678.0 1242.6,693.0 1232.6,678.0 1227.6,663.0" fill="#f5c9bd"/>
<polygon points="1332.6,673.0 1352.6,658.0 1392.6,650.5 1377.6,665.5 1357.6,673.0 1362.6,693.0 1372.6,718.0 1362.6,723.0 1350.1,703.0 1342.6,723.0 1332.6,713.0 1335.1,693.0" fill="#ffffff" stroke-width="2"/>
<polygon points="1340.1,680.5 1352.6,683.0 1355.1,703.0 1345.1,705.5" fill="#f5c9bd" stroke-width="0"/>
<polygon points="1334.1,443.1 1356.6,442.1 1362.6,473.1 1357.6,493.1 1367.6,505.6 1388.6,513.0 1382.6,528.0 1351.6,523.0 1336.6,506.1 1330.6,473.1" fill="#f5c9bd" stroke-width="4"/>
<polygon points="1360.1,524.0 1398.6,527.0 1410.6,558.0 1407.6,595.0 1388.6,600.0 1381.6,580.0 1366.6,586.0 1354.6,559.0" fill="#ffffff" stroke-width="4"/>
<polygon points="1382.6,568.0 1405.1,563.0 1405.1,593.0 1390.1,598.0" fill="#f5c9bd" stroke-width="0"/>
<polygon points="1302.6,583.0 1342.6,528.0 1347.6,533.0 1310.1,588.0" fill="#ffffff" stroke-width="2"/>
<polygon points="1502.6,703.0 1532.6,685.5 1562.6,695.5 1562.6,763.0 1547.6,743.0 1527.6,718.0" fill="#f5c9bd"/>
<polygon points="1562.6,695.5 1597.6,708.0 1632.6,728.0 1652.6,748.0 1677.6,773.0 1662.6,783.0 1632.6,763.0 1602.6,763.0 1582.6,768.0 1562.6,763.0" fill="#ffffff"/>
<polygon points="1422.6,640.5 1435.1,643.0 1432.6,663.0 1422.6,683.0 1417.6,663.0" fill="#ffffff" stroke-width="2"/>
<polygon points="1462.6,673.0 1487.6,678.0 1482.6,688.0 1462.6,683.0" fill="#f5c9bd" stroke-width="2"/>
<polygon points="1657.6,693.0 1692.6,703.0 1697.6,718.0 1672.6,723.0" fill="#ffffff" stroke-width="2"/>
<polygon points="1442.6,788.0 1517.6,790.5 1517.6,823.0 1442.6,823.0" fill="#ffffff" stroke-width="2"/>
<polygon points="1462.6,798.0 1507.6,799.0 1507.6,823.0 1462.6,823.0" fill="#f5c9bd" stroke-width="0"/>
<polygon points="1567.6,778.0 1582.6,780.5 1582.6,823.0 1567.6,823.0" fill="#f5c9bd" stroke-width="2"/>
<polygon points="1037.6,513.0 1045.1,513.0 1047.6,543.0 1040.1,543.0" fill="#ffffff" stroke-width="1"/>
<polygon points="1047.6,563.0 1055.1,565.5 1061.6,588.0 1055.1,588.0" fill="#ffffff" stroke-width="1"/>
<polygon points="1595.1,513.0 1605.1,490.6 1610.1,493.1 1600.1,515.5" fill="#ffffff" stroke-width="1"/>
<polygon points="912.6,60.6 947.6,78.1 957.6,108.1 997.6,120.6 1022.6,145.6 1067.7,144.1 1112.7,155.6 1147.7,140.6 1177.7,128.1 1185.2,110.6 1175.2,103.1 1207.7,93.1 1227.7,73.1 1252.7,55.6 1390.2,55.1 1385.2,90.1 1360.2,120.1 1332.7,145.6 1315.2,173.1 1292.7,148.1 1257.7,188.1 1287.7,208.1 1312.7,213.1 1290.2,238.1 1302.7,263.1 1327.7,278.1 1290.2,293.1 1312.7,313.1 1317.7,338.1 1307.7,368.1 1287.7,393.1 1252.7,408.1 1232.7,418.1 1202.7,413.1 1182.7,400.6 1167.7,408.1 1142.7,413.1 1122.7,408.1 1112.7,398.1 1097.7,378.1 1087.7,348.1 1067.7,330.6 1047.7,328.1 1027.7,338.1 997.6,345.6 967.6,338.1 927.6,323.1 897.6,313.1 877.6,298.1 872.6,273.1 857.6,253.1 827.6,228.1 802.6,225.6 787.6,233.1 767.6,218.1 750.1,230.6 752.6,208.1 772.6,188.1 767.6,165.6 817.6,155.6 862.6,158.1 865.1,138.1 860.1,120.6 877.6,108.1 877.6,93.1 902.6,85.6 905.1,68.1" fill="#dc8572" stroke-width="0"/>
<polygon points="1210.1,440.6 1227.6,438.1 1225.1,453.1 1212.6,455.6" fill="#dc8572" stroke-width="0"/>
<polygon points="1327.6,390.6 1337.6,390.6 1335.1,413.1 1327.6,410.6" fill="#dc8572" stroke-width="0"/>
<polygon points="1338.5,160.0 1368.5,120.0 1398.5,90.0 1423.5,55.0 1393.5,55.0 1378.5,100.0 1353.5,135.0" fill="#f5c9bd" stroke-width="2"/>
<polygon points="1334.5,162.0 1364.5,128.0 1382.5,150.0 1392.5,200.0 1397.5,238.0 1370.5,244.0 1354.5,198.0 1348.5,176.0" fill="#f5c9bd" stroke-width="3"/>
<polygon points="1410.5,252.0 1443.5,222.0 1481.5,198.0 1494.5,150.0 1486.5,128.0 1510.5,132.0 1518.5,176.0 1508.5,216.0 1470.5,242.0 1430.5,272.0" fill="#f5c9bd" stroke-width="3"/>
<polygon points="1478.5,72.0 1516.5,64.0 1538.5,96.0 1498.5,110.0" fill="#f5c9bd" stroke-width="3"/>
<polygon points="1406.5,255.0 1423.5,255.0 1423.5,278.0 1408.5,275.0" fill="#f5c9bd" stroke-width="2"/>
<polygon points="1398.5,330.0 1413.5,318.0 1418.5,324.0 1403.5,338.0" fill="#ffffff" stroke-width="1"/>
<polygon points="-849.9,48.1 -599.9,48.1 -602.4,60.6 -624.9,78.1 -654.9,103.1 -667.4,105.6 -649.9,115.6 -699.9,130.6 -744.9,150.6 -779.9,163.1 -767.4,138.1 -774.9,108.1 -794.9,93.1 -834.9,75.6 -869.9,60.6 -869.9,48.1" fill="#f0b0a0"/>
<polygon points="-607.4,88.1 -589.9,83.1 -579.9,103.1 -594.9,123.1 -607.4,115.6" fill="#f5c9bd" stroke-width="2"/>
<polygon points="-589.9,133.1 -564.9,120.6 -539.9,108.1 -537.4,114.1 -562.4,128.1 -587.4,140.6" fill="#ffffff" stroke-width="1.5"/>
<polygon points="-519.9,83.1 -499.9,65.6 -479.9,73.1 -464.9,98.1 -479.9,108.1 -499.9,98.1" fill="#ffffff" stroke-width="2"/>
<polygon points="-509.9,83.1 -497.4,74.1 -483.9,79.1 -474.9,95.6 -482.4,100.6 -497.4,92.1" fill="#f5c9bd" stroke-width="0"/>
<polygon points="-1114.9,48.1 -869.9,48.1 -869.9,60.6 -834.9,75.6 -794.9,93.1 -774.9,108.1 -767.4,138.1 -779.9,163.1 -744.9,150.6 -699.9,130.6 -659.9,120.6 -634.9,108.1 -622.4,98.1 -614.9,103.1 -624.9,123.1 -644.9,140.6 -654.9,160.6 -694.9,188.1 -719.9,203.1 -729.9,228.1 -724.9,248.1 -739.9,268.1 -769.9,288.1 -789.9,308.1 -787.4,333.1 -779.9,358.1 -784.9,375.6 -794.9,368.1 -802.4,338.1 -814.9,323.1 -844.9,315.6 -874.9,323.1 -904.9,323.1 -934.9,325.6 -954.9,343.1 -967.4,368.1 -979.9,348.1 -994.9,328.1 -1014.9,328.1 -1039.9,300.6 -1064.9,293.1 -1114.9,295.6" fill="#e8927c"/>
<polygon points="-1114.9,295.6 -1064.9,293.1 -1039.9,300.6 -1014.9,328.1 -994.9,328.1 -979.9,348.1 -967.4,368.1 -969.9,398.1 -964.9,428.1 -957.4,449.1 -973.1,400.0 -968.1,430.0 -948.1,455.0 -923.1,465.0 -898.1,450.0 -878.1,430.0 -858.1,428.0 -868.1,450.0 -888.1,470.0 -898.1,490.0 -908.1,495.0 -923.1,480.0 -953.1,490.0 -983.1,475.0 -1013.1,450.0 -1038.1,420.0 -1063.1,385.0 -1093.1,370.0" fill="#eba693"/>
<polygon points="-908.1,495.0 -888.1,470.0 -858.1,490.0 -828.1,495.0 -823.1,520.0 -833.1,545.0 -813.1,560.0 -783.1,575.0 -765.1,592.0 -783.1,592.0 -813.1,582.0 -838.1,565.0 -858.1,540.0 -883.1,512.0" fill="#ffffff"/>
<polygon points="-901.1,488.0 -889.1,488.0 -889.1,500.0 -901.1,500.0" fill="#e88aa0" stroke-width="0"/>
<polygon points="-834.9,415.6 -804.9,405.6 -769.9,415.6 -734.9,433.1 -704.9,443.1 -707.4,449.1 -739.9,442.1 -774.9,425.6 -807.4,415.6 -832.4,423.1" fill="#ffffff" stroke-width="1.5"/>
<polygon points="-814.9,414.1 -794.9,412.1 -764.9,423.1 -734.9,438.1 -744.9,438.1 -774.9,428.1 -799.9,419.1" fill="#f5c9bd" stroke-width="0"/>
<polygon points="-708.1,455.0 -673.1,452.0 -651.1,465.0 -683.1,472.0 -708.1,466.0" fill="#ffffff" stroke-width="1.5"/>
<polygon points="-638.1,462.0 -618.1,462.0 -618.1,470.0 -638.1,470.0" fill="#ffffff" stroke-width="1"/>
<polygon points="-764.9,363.1 -744.9,368.1 -724.9,398.1 -709.9,418.1 -717.4,419.1 -732.4,400.6 -749.9,375.6 -763.9,370.6" fill="#ffffff" stroke-width="1"/>
<polygon points="-603.1,470.0 -591.1,480.0 -585.1,510.0 -595.1,500.0" fill="#ffffff" stroke-width="1"/>
<polygon points="-758.1,580.0 -728.1,550.0 -703.1,545.0 -693.1,570.0 -678.1,590.0 -658.1,595.0 -663.1,625.0 -673.1,645.0 -683.1,690.0 -698.1,690.0 -723.1,665.0 -748.1,655.0 -763.1,630.0 -758.1,600.0" fill="#f5c9bd"/>
<polygon points="-703.1,545.0 -673.1,540.0 -633.1,550.0 -593.1,555.0 -578.1,580.0 -593.1,600.0 -613.1,610.0 -628.1,650.0 -648.1,640.0 -658.1,595.0 -678.1,590.0 -693.1,570.0" fill="#f5c9bd"/>
<polygon points="-578.1,580.0 -543.1,590.0 -503.1,600.0 -483.1,630.0 -473.1,650.0 -503.1,655.0 -533.1,640.0 -568.1,640.0 -578.1,620.0 -593.1,600.0" fill="#ffffff"/>
<polygon points="-793.1,650.0 -763.1,640.0 -738.1,670.0 -753.1,700.0 -778.1,715.0 -798.1,700.0" fill="#ffffff"/>
<polygon points="-778.1,715.0 -753.1,700.0 -738.1,670.0 -723.1,665.0 -698.1,690.0 -683.1,690.0 -703.1,720.0 -718.1,745.0 -708.1,780.0 -683.1,830.0 -733.1,830.0 -773.1,760.0 -798.1,725.0" fill="#f5c9bd"/>
<polygon points="-683.1,690.0 -673.1,645.0 -628.1,650.0 -613.1,610.0 -578.1,620.0 -568.1,640.0 -533.1,640.0 -503.1,655.0 -473.1,650.0 -458.1,680.0 -423.1,690.0 -383.1,700.0 -333.1,715.0 -308.1,740.0 -318.1,775.0 -343.1,830.0 -683.1,830.0 -708.1,780.0 -718.1,745.0 -703.1,720.0" fill="#f0b0a0"/>
<polygon points="-238.1,222.0 -208.1,226.0 -208.1,234.0 -238.1,230.0" fill="#ffffff" stroke-width="1"/>
<polygon points="-133.1,352.0 -83.1,347.0 -83.1,354.0 -133.1,358.0" fill="#ffffff" stroke-width="1"/>
<polygon points="-208.1,472.0 -185.1,477.0 -187.1,496.0 -203.1,492.0" fill="#ffffff" stroke-width="1"/>
</g></svg>
</div></div>
<div class="float" style="left:32px;top:239px;width:908px;height:102.5px"></div>
<div class="t" style="left:58px;top:255px;font-size:15.5px;color:#1a1c21;letter-spacing:.2px;-webkit-text-stroke:.28px #1a1c21" id="c1">Source Country</div>
<div class="t" style="left:345px;top:255px;font-size:15.5px;color:#1a1c21;letter-spacing:.2px;-webkit-text-stroke:.28px #1a1c21">OS</div>
<div class="t" style="left:633px;top:255px;font-size:15.5px;color:#1a1c21;letter-spacing:.2px;-webkit-text-stroke:.28px #1a1c21">Bytes</div>
<div class="box" style="left:55px;top:281px;width:269px;height:40px"></div>
<div class="box" style="left:343px;top:281px;width:269px;height:40px"></div>
<div class="box" style="left:631px;top:281px;width:61px;height:40px"></div>
<div class="box" style="left:860px;top:281px;width:61px;height:40px"></div>
<div class="t" style="left:68px;top:292.5px;font-size:15px;color:#69707d;letter-spacing:.28px" id="sel1">Select...</div>
<div class="t" style="left:358px;top:292.5px;font-size:15px;color:#69707d;letter-spacing:.28px">Select...</div>
<div class="abs" style="left:720px;top:295.5px;width:124px;height:2px;background:#d3dae6"></div>
<div class="abs" style="left:709.5px;top:287.5px;width:21px;height:21px;border-radius:50%;background:#0077cc;box-shadow:0 2px 3px rgba(0,70,150,.3)"></div>
<div class="t" style="left:709px;top:314px;font-size:13px;color:#69707d">0</div>
<div class="t" style="left:802px;top:314px;font-size:13px;color:#69707d;letter-spacing:.25px" id="n19956">19956</div>
<div class="float" style="left:985px;top:223px;width:444px;height:333px"></div>
<div class="t" style="left:1012px;top:248px;font-size:16.5px;color:#343741;letter-spacing:.3px" id="vt">[Logs] Visitors by OS</div>
<svg class="abs" style="left:985px;top:223px" width="444" height="333" viewBox="985 223 444 333"><path d="M1210.00 319.70A91 91 0 0 1 1297.82 386.84L1261.15 396.80A53 53 0 0 0 1210.00 357.70Z" fill="#9469be"/><path d="M1297.82 386.84A91 91 0 0 1 1249.03 492.90L1232.73 458.58A53 53 0 0 0 1261.15 396.80Z" fill="#00b3a4"/><path d="M1249.03 492.90A91 91 0 0 1 1149.94 479.07L1175.02 450.52A53 53 0 0 0 1232.73 458.58Z" fill="#fb8a70"/><path d="M1149.94 479.07A91 91 0 0 1 1122.14 386.99L1158.83 396.89A53 53 0 0 0 1175.02 450.52Z" fill="#0077cc"/><path d="M1122.14 386.99A91 91 0 0 1 1210.00 319.70L1210.00 357.70A53 53 0 0 0 1158.83 396.89Z" fill="#f2a900"/><path d="M1117 321H1146L1160 335" fill="none" stroke="#e3e5e8" stroke-width="1.3"/><path d="M1312 321H1287L1267 340" fill="none" stroke="#e3e5e8" stroke-width="1.3"/><path d="M1102 446L1122 440" fill="none" stroke="#e3e5e8" stroke-width="1.3"/><path d="M1291 449L1309 459" fill="none" stroke="#e3e5e8" stroke-width="1.3"/><path d="M1136 522H1187L1194 500" fill="none" stroke="#e3e5e8" stroke-width="1.3"/></svg>
<div class="t" style="left:1021px;top:314px;font-size:13.5px;color:#535966;letter-spacing:.1px" id="lb1">win 7 (19.44%)</div>
<div class="t" style="left:1316px;top:314px;font-size:13.5px;color:#535966;letter-spacing:.1px" id="lb2">osx (20.74%)</div>
<div class="t" style="left:1031px;top:441px;font-size:13.5px;color:#535966;letter-spacing:.1px" id="lb3">ios (19.5%)</div>
<div class="t" style="left:1296px;top:470.5px;font-size:13.5px;color:#535966;letter-spacing:.1px" id="lb4">win xp (20.19%)</div>
<div class="t" style="left:1041px;top:515px;font-size:13.5px;color:#535966;letter-spacing:.1px" id="lb5">win 8 (20.12%)</div>
<div class="float" style="left:32px;top:611px;width:817px;height:357px"></div>
<div class="t" style="left:62px;top:637px;font-size:16.5px;color:#343741;letter-spacing:.3px" id="st">[Logs] Source and Destination Sankey Chart</div>
<div class="t" style="left:62px;top:682.1px;font-size:10.5px;color:#343741">1,600</div>
<div class="t" style="left:62px;top:710.1px;font-size:10.5px;color:#343741">1,400</div>
<div class="t" style="left:62px;top:738.1px;font-size:10.5px;color:#343741">1,200</div>
<div class="t" style="left:62px;top:766.1px;font-size:10.5px;color:#343741">1,000</div>
<div class="t" style="left:62px;top:798.1px;font-size:10.5px;color:#343741">800</div>
<div class="t" style="left:62px;top:830.1px;font-size:10.5px;color:#343741">600</div>
<div class="t" style="left:62px;top:858.1px;font-size:10.5px;color:#343741">400</div>
<div class="t" style="left:62px;top:886.1px;font-size:10.5px;color:#343741">200</div>
<div class="t" style="left:62px;top:914.1px;font-size:10.5px;color:#343741">0</div>
<div class="t" style="left:106px;top:940px;font-size:10.8px;color:#343741">Destination</div>
<div class="t" style="left:717px;top:940px;width:100px;text-align:right;font-size:10.5px;color:#343741">Source</div>
<svg class="abs" style="left:32px;top:611px" width="817" height="357" viewBox="32 611 817 357"><g fill="none"><g stroke="#eedb90" stroke-opacity="0.32"><path stroke-width="0.55" d="M140.8 712.8C463 712.8 463 762.3 784.8 762.3"/></g><g stroke="#8fb4f6" stroke-opacity="0.5"><path stroke-width="0.69" d="M140.8 829.9C463 829.9 463 691.9 784.8 691.9"/><path stroke-width="1.51" d="M140.8 831.0C463 831.0 463 728.2 784.8 728.2"/><path stroke-width="0.87" d="M140.8 832.7C463 832.7 463 805.6 784.8 805.6"/><path stroke-width="2.59" d="M140.8 877.4C463 877.4 463 741.2 784.8 741.2"/><path stroke-width="0.61" d="M140.8 879.9C463 879.9 463 887.8 784.8 887.8"/><path stroke-width="1.42" d="M140.8 881.3C463 881.3 463 917.0 784.8 917.0"/><path stroke-width="1.67" d="M140.8 894.9C463 894.9 463 745.5 784.8 745.5"/><path stroke-width="1.18" d="M140.8 896.4C463 896.4 463 817.6 784.8 817.6"/></g><g stroke="#a08ad8" stroke-opacity="0.23"><path stroke-width="0.55" d="M140.8 673.1C463 673.1 463 695.1 784.8 695.1M140.8 674.0C463 674.0 463 890.9 784.8 890.9"/></g><g stroke="#a08078" stroke-opacity="0.5"><path stroke-width="1.58" d="M140.8 861.6C463 861.6 463 810.1 784.8 810.1"/></g><g stroke="#8cb4f8" stroke-opacity="0.5"><path stroke-width="0.87" d="M140.8 766.9C463 766.9 463 799.5 784.8 799.5"/></g><g stroke="#eedb90" stroke-opacity="0.38"><path stroke-width="0.55" d="M140.8 810.1C463 810.1 463 875.3 784.8 875.3"/></g><g stroke="#c0a890" stroke-opacity="0.34"><path stroke-width="0.55" d="M140.8 875.6C463 875.6 463 882.7 784.8 882.7"/></g><g stroke="#c8b0a0" stroke-opacity="0.23"><path stroke-width="0.55" d="M140.8 772.4C463 772.4 463 673.9 784.8 673.9M140.8 772.6C463 772.6 463 762.6 784.8 762.6M140.8 772.6C463 772.6 463 765.5 784.8 765.5M140.8 772.7C463 772.7 463 771.3 784.8 771.3M140.8 772.9C463 772.9 463 843.6 784.8 843.6M140.8 773.0C463 773.0 463 848.9 784.8 848.9M140.8 773.1C463 773.1 463 862.4 784.8 862.4"/></g><g stroke="#8a68bc" stroke-opacity="0.49"><path stroke-width="0.55" d="M140.8 899.3C463 899.3 463 676.7 784.8 676.7M140.8 917.4C463 917.4 463 883.4 784.8 883.4"/></g><g stroke="#f0e8e8" stroke-opacity="0.46"><path stroke-width="0.55" d="M140.8 844.5C463 844.5 463 676.0 784.8 676.0"/></g><g stroke="#eedb90" stroke-opacity="0.5"><path stroke-width="0.77" d="M140.8 697.2C463 697.2 463 673.4 784.8 673.4M140.8 748.3C463 748.3 463 922.1 784.8 922.1"/><path stroke-width="0.61" d="M140.8 697.9C463 697.9 463 674.9 784.8 674.9M140.8 757.2C463 757.2 463 712.1 784.8 712.1"/><path stroke-width="1.21" d="M140.8 698.8C463 698.8 463 678.2 784.8 678.2"/><path stroke-width="1.19" d="M140.8 700.0C463 700.0 463 683.4 784.8 683.4"/><path stroke-width="0.89" d="M140.8 701.0C463 701.0 463 685.0 784.8 685.0"/><path stroke-width="0.57" d="M140.8 701.7C463 701.7 463 693.7 784.8 693.7"/><path stroke-width="2.22" d="M140.8 703.1C463 703.1 463 696.3 784.8 696.3"/><path stroke-width="4.67" d="M140.8 706.6C463 706.6 463 707.2 784.8 707.2"/><path stroke-width="1.1" d="M140.8 709.5C463 709.5 463 755.3 784.8 755.3"/><path stroke-width="1.39" d="M140.8 710.7C463 710.7 463 758.7 784.8 758.7"/><path stroke-width="1.17" d="M140.8 712.0C463 712.0 463 760.3 784.8 760.3"/><path stroke-width="1.64" d="M140.8 713.8C463 713.8 463 764.5 784.8 764.5"/><path stroke-width="1.07" d="M140.8 715.1C463 715.1 463 767.6 784.8 767.6"/><path stroke-width="3.69" d="M140.8 717.5C463 717.5 463 775.4 784.8 775.4"/><path stroke-width="5.1" d="M140.8 721.9C463 721.9 463 792.9 784.8 792.9"/><path stroke-width="1.08" d="M140.8 725.0C463 725.0 463 825.9 784.8 825.9M140.8 732.0C463 732.0 463 853.4 784.8 853.4M140.8 739.6C463 739.6 463 878.9 784.8 878.9"/><path stroke-width="1.14" d="M140.8 726.1C463 726.1 463 829.6 784.8 829.6"/><path stroke-width="0.88" d="M140.8 727.1C463 727.1 463 832.8 784.8 832.8"/><path stroke-width="0.63" d="M140.8 727.8C463 727.8 463 836.0 784.8 836.0"/><path stroke-width="0.67" d="M140.8 728.5C463 728.5 463 840.9 784.8 840.9"/><path stroke-width="1.09" d="M140.8 729.4C463 729.4 463 842.9 784.8 842.9M140.8 749.3C463 749.3 463 924.3 784.8 924.3M140.8 805.6C463 805.6 463 849.7 784.8 849.7"/><path stroke-width="0.73" d="M140.8 730.4C463 730.4 463 845.6 784.8 845.6"/><path stroke-width="0.66" d="M140.8 731.1C463 731.1 463 848.4 784.8 848.4M140.8 732.9C463 732.9 463 854.8 784.8 854.8M140.8 804.6C463 804.6 463 839.7 784.8 839.7"/><path stroke-width="2.69" d="M140.8 734.6C463 734.6 463 857.9 784.8 857.9"/><path stroke-width="1.93" d="M140.8 736.9C463 736.9 463 869.5 784.8 869.5"/><path stroke-width="0.98" d="M140.8 738.3C463 738.3 463 874.4 784.8 874.4"/><path stroke-width="1.04" d="M140.8 740.6C463 740.6 463 884.4 784.8 884.4"/><path stroke-width="0.6" d="M140.8 741.4C463 741.4 463 889.2 784.8 889.2M140.8 742.0C463 742.0 463 891.7 784.8 891.7M140.8 800.3C463 800.3 463 763.0 784.8 763.0"/><path stroke-width="4.91" d="M140.8 745.5C463 745.5 463 904.6 784.8 904.6"/><path stroke-width="0.65" d="M140.8 758.1C463 758.1 463 797.7 784.8 797.7M140.8 801.7C463 801.7 463 780.2 784.8 780.2"/><path stroke-width="0.55" d="M140.8 758.7C463 758.7 463 833.8 784.8 833.8M140.8 807.0C463 807.0 463 860.2 784.8 860.2"/><path stroke-width="5.63" d="M140.8 785.3C463 785.3 463 688.4 784.8 688.4"/><path stroke-width="0.79" d="M140.8 788.5C463 788.5 463 694.5 784.8 694.5M140.8 808.4C463 808.4 463 866.0 784.8 866.0"/><path stroke-width="8.75" d="M140.8 793.8C463 793.8 463 721.8 784.8 721.8"/><path stroke-width="1.41" d="M140.8 799.2C463 799.2 463 756.7 784.8 756.7"/><path stroke-width="1.49" d="M140.8 802.8C463 802.8 463 802.3 784.8 802.3"/><path stroke-width="1.06" d="M140.8 809.3C463 809.3 463 871.4 784.8 871.4"/><path stroke-width="0.69" d="M140.8 810.6C463 810.6 463 876.8 784.8 876.8"/><path stroke-width="1.96" d="M140.8 811.9C463 811.9 463 881.1 784.8 881.1"/><path stroke-width="1.32" d="M140.8 814.3C463 814.3 463 895.1 784.8 895.1"/><path stroke-width="1.4" d="M140.8 815.6C463 815.6 463 897.9 784.8 897.9"/><path stroke-width="3.67" d="M140.8 818.2C463 818.2 463 911.3 784.8 911.3"/><path stroke-width="0.7" d="M140.8 820.4C463 820.4 463 922.9 784.8 922.9"/><path stroke-width="0.68" d="M140.8 821.1C463 821.1 463 925.4 784.8 925.4"/><path stroke-width="0.81" d="M140.8 839.1C463 839.1 463 807.2 784.8 807.2"/><path stroke-width="0.96" d="M140.8 872.8C463 872.8 463 814.5 784.8 814.5"/></g><g stroke="#e07ca8" stroke-opacity="0.24"><path stroke-width="0.55" d="M140.8 864.9C463 864.9 463 915.2 784.8 915.2"/></g><g stroke="#a0d0c8" stroke-opacity="0.46"><path stroke-width="0.55" d="M140.8 841.1C463 841.1 463 730.2 784.8 730.2"/></g><g stroke="#a0a8c0" stroke-opacity="0.32"><path stroke-width="0.55" d="M140.8 885.3C463 885.3 463 742.8 784.8 742.8"/></g><g stroke="#f6c8a8" stroke-opacity="0.5"><path stroke-width="1.36" d="M140.8 675.2C463 675.2 463 701.6 784.8 701.6"/></g><g stroke="#9a78c8" stroke-opacity="0.23"><path stroke-width="0.55" d="M140.8 882.3C463 882.3 463 699.4 784.8 699.4M140.8 882.4C463 882.4 463 766.8 784.8 766.8M140.8 882.5C463 882.5 463 827.5 784.8 827.5M140.8 882.6C463 882.6 463 837.4 784.8 837.4M140.8 883.1C463 883.1 463 883.0 784.8 883.0M140.8 883.2C463 883.2 463 893.3 784.8 893.3"/></g><g stroke="#d8a0d0" stroke-opacity="0.23"><path stroke-width="0.55" d="M140.8 682.8C463 682.8 463 684.5 784.8 684.5M140.8 683.5C463 683.5 463 753.2 784.8 753.2M140.8 683.9C463 683.9 463 888.3 784.8 888.3M140.8 684.1C463 684.1 463 923.5 784.8 923.5"/></g><g stroke="#d878a8" stroke-opacity="0.5"><path stroke-width="0.74" d="M140.8 835.8C463 835.8 463 806.4 784.8 806.4"/></g><g stroke="#eedb90" stroke-opacity="0.47"><path stroke-width="0.55" d="M140.8 804.0C463 804.0 463 836.9 784.8 836.9"/></g><g stroke="#f4b880" stroke-opacity="0.5"><path stroke-width="0.82" d="M140.8 854.8C463 854.8 463 680.8 784.8 680.8"/><path stroke-width="3.2" d="M140.8 857.0C463 857.0 463 736.5 784.8 736.5"/></g><g stroke="#96cdc6" stroke-opacity="0.48"><path stroke-width="0.55" d="M140.8 680.7C463 680.7 463 844.9 784.8 844.9"/></g><g stroke="#e0ccb8" stroke-opacity="0.5"><path stroke-width="1.8" d="M140.8 823.2C463 823.2 463 803.9 784.8 803.9"/></g><g stroke="#e07ca8" stroke-opacity="0.39"><path stroke-width="0.55" d="M140.8 848.4C463 848.4 463 680.2 784.8 680.2"/></g><g stroke="#a08ad8" stroke-opacity="0.5"><path stroke-width="0.72" d="M140.8 673.5C463 673.5 463 700.6 784.8 700.6"/></g><g stroke="#f4ecc0" stroke-opacity="0.42"><path stroke-width="0.55" d="M140.8 854.0C463 854.0 463 808.6 784.8 808.6"/></g><g stroke="#a08078" stroke-opacity="0.23"><path stroke-width="0.55" d="M140.8 860.5C463 860.5 463 754.1 784.8 754.1M140.8 860.7C463 860.7 463 782.1 784.8 782.1M140.8 862.6C463 862.6 463 890.1 784.8 890.1M140.8 862.7C463 862.7 463 915.0 784.8 915.0"/></g><g stroke="#e07ca8" stroke-opacity="0.36"><path stroke-width="0.55" d="M140.8 863.1C463 863.1 463 738.6 784.8 738.6"/></g><g stroke="#e0b0d8" stroke-opacity="0.23"><path stroke-width="0.55" d="M140.8 695.4C463 695.4 463 769.7 784.8 769.7M140.8 696.2C463 696.2 463 832.3 784.8 832.3M140.8 696.3C463 696.3 463 878.3 784.8 878.3M140.8 696.5C463 696.5 463 891.3 784.8 891.3M140.8 696.5C463 696.5 463 897.1 784.8 897.1M140.8 696.7C463 696.7 463 923.7 784.8 923.7"/></g><g stroke="#8a68bc" stroke-opacity="0.37"><path stroke-width="0.55" d="M140.8 867.8C463 867.8 463 915.5 784.8 915.5"/></g><g stroke="#85706a" stroke-opacity="0.5"><path stroke-width="1.53" d="M140.8 762.5C463 762.5 463 713.6 784.8 713.6"/><path stroke-width="1.06" d="M140.8 764.0C463 764.0 463 798.5 784.8 798.5"/><path stroke-width="0.87" d="M140.8 825.3C463 825.3 463 727.0 784.8 727.0"/><path stroke-width="0.81" d="M140.8 826.5C463 826.5 463 781.1 784.8 781.1"/><path stroke-width="0.67" d="M140.8 890.1C463 890.1 463 744.3 784.8 744.3"/><path stroke-width="0.88" d="M140.8 891.2C463 891.2 463 816.6 784.8 816.6"/><path stroke-width="0.99" d="M140.8 892.6C463 892.6 463 851.7 784.8 851.7"/></g><g stroke="#eedb90" stroke-opacity="0.26"><path stroke-width="0.55" d="M140.8 813.1C463 813.1 463 886.6 784.8 886.6"/></g><g stroke="#b07878" stroke-opacity="0.23"><path stroke-width="0.55" d="M140.8 692.0C463 692.0 463 788.2 784.8 788.2M140.8 692.1C463 692.1 463 825.3 784.8 825.3M140.8 692.2C463 692.2 463 856.5 784.8 856.5M140.8 692.2C463 692.2 463 864.9 784.8 864.9M140.8 692.4C463 692.4 463 875.9 784.8 875.9M140.8 693.0C463 693.0 463 902.1 784.8 902.1"/></g><g stroke="#96cdc6" stroke-opacity="0.5"><path stroke-width="1.78" d="M140.8 679.2C463 679.2 463 783.9 784.8 783.9"/><path stroke-width="0.57" d="M140.8 682.5C463 682.5 463 901.3 784.8 901.3"/><path stroke-width="1.3" d="M140.8 694.1C463 694.1 463 788.9 784.8 788.9"/><path stroke-width="0.69" d="M140.8 752.9C463 752.9 463 711.0 784.8 711.0"/><path stroke-width="0.96" d="M140.8 753.8C463 753.8 463 796.5 784.8 796.5"/></g><g stroke="#eedb90" stroke-opacity="0.24"><path stroke-width="0.55" d="M140.8 760.3C463 760.3 463 907.2 784.8 907.2"/></g><g stroke="#dccab6" stroke-opacity="0.27"><path stroke-width="0.55" d="M140.8 690.8C463 690.8 463 856.3 784.8 856.3"/></g><g stroke="#a0a8c0" stroke-opacity="0.49"><path stroke-width="0.55" d="M140.8 885.9C463 885.9 463 815.9 784.8 815.9"/></g><g stroke="#8fb4f6" stroke-opacity="0.23"><path stroke-width="0.55" d="M140.8 831.8C463 831.8 463 757.5 784.8 757.5M140.8 832.1C463 832.1 463 771.5 784.8 771.5M140.8 832.2C463 832.2 463 772.5 784.8 772.5M140.8 833.2C463 833.2 463 841.4 784.8 841.4M140.8 833.3C463 833.3 463 846.5 784.8 846.5M140.8 833.5C463 833.5 463 862.7 784.8 862.7M140.8 834.0C463 834.0 463 877.2 784.8 877.2M140.8 834.1C463 834.1 463 900.1 784.8 900.1M140.8 876.0C463 876.0 463 681.6 784.8 681.6M140.8 878.8C463 878.8 463 782.3 784.8 782.3M140.8 879.0C463 879.0 463 827.4 784.8 827.4M140.8 879.1C463 879.1 463 844.0 784.8 844.0M140.8 879.3C463 879.3 463 861.0 784.8 861.0M140.8 879.5C463 879.5 463 867.7 784.8 867.7M140.8 879.6C463 879.6 463 882.9 784.8 882.9M140.8 880.4C463 880.4 463 890.5 784.8 890.5M140.8 880.6C463 880.6 463 893.2 784.8 893.2M140.8 882.1C463 882.1 463 926.2 784.8 926.2M140.8 895.8C463 895.8 463 761.5 784.8 761.5M140.8 897.2C463 897.2 463 861.3 784.8 861.3M140.8 897.4C463 897.4 463 893.4 784.8 893.4M140.8 897.5C463 897.5 463 899.3 784.8 899.3M140.8 897.6C463 897.6 463 918.3 784.8 918.3"/></g><g stroke="#f8d8e8" stroke-opacity="0.48"><path stroke-width="0.55" d="M140.8 871.7C463 871.7 463 916.0 784.8 916.0"/></g><g stroke="#96cdc6" stroke-opacity="0.41"><path stroke-width="0.55" d="M140.8 678.1C463 678.1 463 773.3 784.8 773.3"/></g><g stroke="#8a68bc" stroke-opacity="0.45"><path stroke-width="0.55" d="M140.8 851.8C463 851.8 463 734.1 784.8 734.1M140.8 865.3C463 865.3 463 739.0 784.8 739.0"/></g><g stroke="#a08078" stroke-opacity="0.24"><path stroke-width="0.55" d="M140.8 860.3C463 860.3 463 738.2 784.8 738.2"/></g><g stroke="#dccab6" stroke-opacity="0.49"><path stroke-width="0.55" d="M140.8 690.3C463 690.3 463 847.8 784.8 847.8"/></g><g stroke="#96cdc6" stroke-opacity="0.25"><path stroke-width="0.55" d="M140.8 682.1C463 682.1 463 891.0 784.8 891.0"/></g><g stroke="#f8d8e8" stroke-opacity="0.42"><path stroke-width="0.55" d="M140.8 868.3C463 868.3 463 692.6 784.8 692.6"/></g><g stroke="#e07ca8" stroke-opacity="0.35"><path stroke-width="0.55" d="M140.8 850.1C463 850.1 463 872.9 784.8 872.9"/></g><g stroke="#f4ecc0" stroke-opacity="0.5"><path stroke-width="0.55" d="M140.8 853.4C463 853.4 463 734.6 784.8 734.6"/></g><g stroke="#f8d8e8" stroke-opacity="0.23"><path stroke-width="0.55" d="M140.8 868.5C463 868.5 463 699.3 784.8 699.3M140.8 869.1C463 869.1 463 766.7 784.8 766.7M140.8 870.7C463 870.7 463 831.2 784.8 831.2M140.8 870.8C463 870.8 463 834.7 784.8 834.7M140.8 870.9C463 870.9 463 851.1 784.8 851.1M140.8 871.0C463 871.0 463 875.7 784.8 875.7M140.8 871.1C463 871.1 463 877.7 784.8 877.7M140.8 871.3C463 871.3 463 887.4 784.8 887.4M140.8 871.4C463 871.4 463 893.1 784.8 893.1M140.8 883.2C463 883.2 463 676.4 784.8 676.4M140.8 883.4C463 883.4 463 742.6 784.8 742.6M140.8 883.5C463 883.5 463 754.2 784.8 754.2M140.8 884.3C463 884.3 463 827.6 784.8 827.6M140.8 884.4C463 884.4 463 840.3 784.8 840.3M140.8 884.5C463 884.5 463 841.7 784.8 841.7M140.8 884.6C463 884.6 463 861.2 784.8 861.2M140.8 887.0C463 887.0 463 681.8 784.8 681.8M140.8 887.2C463 887.2 463 692.9 784.8 692.9M140.8 888.2C463 888.2 463 754.3 784.8 754.3M140.8 888.3C463 888.3 463 759.7 784.8 759.7M140.8 888.4C463 888.4 463 782.4 784.8 782.4M140.8 888.5C463 888.5 463 831.3 784.8 831.3M140.8 888.6C463 888.6 463 835.1 784.8 835.1M140.8 888.8C463 888.8 463 837.6 784.8 837.6M140.8 888.9C463 888.9 463 844.1 784.8 844.1M140.8 889.0C463 889.0 463 847.3 784.8 847.3M140.8 889.1C463 889.1 463 863.1 784.8 863.1M140.8 889.3C463 889.3 463 867.8 784.8 867.8M140.8 889.3C463 889.3 463 888.1 784.8 888.1M140.8 889.4C463 889.4 463 896.3 784.8 896.3"/></g><g stroke="#e07ca8" stroke-opacity="0.28"><path stroke-width="0.55" d="M140.8 851.3C463 851.3 463 914.5 784.8 914.5"/></g><g stroke="#96cdc6" stroke-opacity="0.23"><path stroke-width="0.55" d="M140.8 677.3C463 677.3 463 684.4 784.8 684.4M140.8 680.1C463 680.1 463 828.9 784.8 828.9M140.8 680.2C463 680.2 463 838.5 784.8 838.5M140.8 680.4C463 680.4 463 842.1 784.8 842.1M140.8 681.1C463 681.1 463 864.8 784.8 864.8M140.8 681.8C463 681.8 463 883.8 784.8 883.8M140.8 681.9C463 681.9 463 885.8 784.8 885.8M140.8 693.2C463 693.2 463 704.8 784.8 704.8M140.8 693.4C463 693.4 463 772.1 784.8 772.1M140.8 693.4C463 693.4 463 773.5 784.8 773.5M140.8 694.8C463 694.8 463 832.2 784.8 832.2M140.8 695.0C463 695.0 463 842.3 784.8 842.3M140.8 695.1C463 695.1 463 878.2 784.8 878.2M140.8 753.3C463 753.3 463 765.4 784.8 765.4M140.8 754.3C463 754.3 463 843.5 784.8 843.5M140.8 754.4C463 754.4 463 865.0 784.8 865.0M140.8 754.5C463 754.5 463 892.1 784.8 892.1"/></g><g stroke="#f4c0a8" stroke-opacity="0.5"><path stroke-width="1.13" d="M140.8 750.5C463 750.5 463 710.1 784.8 710.1"/><path stroke-width="0.64" d="M140.8 751.5C463 751.5 463 795.7 784.8 795.7"/></g><g stroke="#8a68bc" stroke-opacity="0.41"><path stroke-width="0.55" d="M140.8 780.1C463 780.1 463 886.2 784.8 886.2M140.8 906.8C463 906.8 463 761.8 784.8 761.8"/></g><g stroke="#b07878" stroke-opacity="0.43"><path stroke-width="0.55" d="M140.8 692.6C463 692.6 463 888.6 784.8 888.6"/></g><g stroke="#d8a0d0" stroke-opacity="0.5"><path stroke-width="0.62" d="M140.8 683.2C463 683.2 463 703.0 784.8 703.0"/></g><g stroke="#f4c08c" stroke-opacity="0.5"><path stroke-width="0.77" d="M140.8 925.2C463 925.2 463 824.7 784.8 824.7"/></g><g stroke="#b0a098" stroke-opacity="0.31"><path stroke-width="0.55" d="M140.8 847.2C463 847.2 463 781.8 784.8 781.8"/></g><g stroke="#dccab6" stroke-opacity="0.29"><path stroke-width="0.55" d="M140.8 691.6C463 691.6 463 901.8 784.8 901.8"/></g><g stroke="#8fb4f6" stroke-opacity="0.49"><path stroke-width="0.55" d="M140.8 829.3C463 829.3 463 679.5 784.8 679.5"/></g><g stroke="#8cb4f8" stroke-opacity="0.23"><path stroke-width="0.55" d="M140.8 765.4C463 765.4 463 675.3 784.8 675.3M140.8 765.5C463 765.5 463 685.6 784.8 685.6M140.8 766.2C463 766.2 463 753.4 784.8 753.4M140.8 766.3C463 766.3 463 770.2 784.8 770.2M140.8 766.4C463 766.4 463 772.3 784.8 772.3M140.8 767.5C463 767.5 463 848.8 784.8 848.8M140.8 767.6C463 767.6 463 862.3 784.8 862.3M140.8 767.8C463 767.8 463 863.5 784.8 863.5M140.8 767.9C463 767.9 463 880.0 784.8 880.0M140.8 768.0C463 768.0 463 892.2 784.8 892.2"/></g><g stroke="#eedb90" stroke-opacity="0.31"><path stroke-width="0.55" d="M140.8 798.3C463 798.3 463 753.7 784.8 753.7"/></g><g stroke="#e080b0" stroke-opacity="0.31"><path stroke-width="0.55" d="M140.8 755.6C463 755.6 463 797.2 784.8 797.2"/></g><g stroke="#f4ead0" stroke-opacity="0.23"><path stroke-width="0.55" d="M140.8 760.9C463 760.9 463 865.2 784.8 865.2M140.8 761.0C463 761.0 463 875.0 784.8 875.0"/></g><g stroke="#f8d8e8" stroke-opacity="0.24"><path stroke-width="0.55" d="M140.8 884.9C463 884.9 463 899.1 784.8 899.1"/></g><g stroke="#a0d0c8" stroke-opacity="0.23"><path stroke-width="0.55" d="M140.8 841.4C463 841.4 463 770.5 784.8 770.5M140.8 841.6C463 841.6 463 846.6 784.8 846.6M140.8 841.7C463 841.7 463 877.3 784.8 877.3M140.8 841.8C463 841.8 463 885.1 784.8 885.1M140.8 841.9C463 841.9 463 914.3 784.8 914.3"/></g><g stroke="#f0dc98" stroke-opacity="0.5"><path stroke-width="0.9" d="M140.8 922.2C463 922.2 463 752.3 784.8 752.3"/><path stroke-width="0.57" d="M140.8 923.1C463 923.1 463 824.0 784.8 824.0"/></g><g stroke="#f4c08c" stroke-opacity="0.33"><path stroke-width="0.55" d="M140.8 924.3C463 924.3 463 752.9 784.8 752.9"/></g><g stroke="#85706a" stroke-opacity="0.26"><path stroke-width="0.55" d="M140.8 828.0C463 828.0 463 872.2 784.8 872.2"/></g><g stroke="#8cb4f8" stroke-opacity="0.46"><path stroke-width="0.55" d="M140.8 765.9C463 765.9 463 714.6 784.8 714.6"/></g><g stroke="#96cdc6" stroke-opacity="0.38"><path stroke-width="0.55" d="M140.8 677.6C463 677.6 463 702.5 784.8 702.5"/></g><g stroke="#e080b0" stroke-opacity="0.43"><path stroke-width="0.55" d="M140.8 756.3C463 756.3 463 859.5 784.8 859.5"/></g><g stroke="#f4c08c" stroke-opacity="0.41"><path stroke-width="0.55" d="M140.8 926.3C463 926.3 463 921.5 784.8 921.5"/></g><g stroke="#85706a" stroke-opacity="0.39"><path stroke-width="0.55" d="M140.8 893.8C463 893.8 463 918.0 784.8 918.0"/></g><g stroke="#f8d8e8" stroke-opacity="0.38"><path stroke-width="0.55" d="M140.8 868.8C463 868.8 463 739.5 784.8 739.5"/></g><g stroke="#f8d8e8" stroke-opacity="0.5"><path stroke-width="1.37" d="M140.8 869.9C463 869.9 463 813.4 784.8 813.4"/><path stroke-width="0.62" d="M140.8 884.0C463 884.0 463 815.3 784.8 815.3"/><path stroke-width="0.95" d="M140.8 887.7C463 887.7 463 743.5 784.8 743.5"/></g><g stroke="#f4c0a8" stroke-opacity="0.23"><path stroke-width="0.55" d="M140.8 749.8C463 749.8 463 697.4 784.8 697.4M140.8 751.1C463 751.1 463 769.8 784.8 769.8M140.8 752.0C463 752.0 463 833.3 784.8 833.3M140.8 752.3C463 752.3 463 894.2 784.8 894.2M140.8 752.4C463 752.4 463 899.7 784.8 899.7"/></g><g stroke="#eedb90" stroke-opacity="0.23"><path stroke-width="0.55" d="M140.8 730.0C463 730.0 463 844.3 784.8 844.3M140.8 738.9C463 738.9 463 876.1 784.8 876.1M140.8 756.8C463 756.8 463 679.1 784.8 679.1M140.8 756.9C463 756.9 463 697.7 784.8 697.7M140.8 757.7C463 757.7 463 770.0 784.8 770.0M140.8 759.1C463 759.1 463 836.4 784.8 836.4M140.8 759.2C463 759.2 463 839.2 784.8 839.2M140.8 759.3C463 759.3 463 848.7 784.8 848.7M140.8 759.4C463 759.4 463 865.1 784.8 865.1M140.8 759.6C463 759.6 463 870.7 784.8 870.7M140.8 759.7C463 759.7 463 876.3 784.8 876.3M140.8 782.2C463 782.2 463 675.4 784.8 675.4M140.8 782.4C463 782.4 463 679.2 784.8 679.2M140.8 789.3C463 789.3 463 698.9 784.8 698.9M140.8 799.9C463 799.9 463 761.1 784.8 761.1M140.8 803.6C463 803.6 463 830.5 784.8 830.5M140.8 805.0C463 805.0 463 846.3 784.8 846.3M140.8 806.2C463 806.2 463 854.1 784.8 854.1M140.8 807.4C463 807.4 463 862.6 784.8 862.6M140.8 838.5C463 838.5 463 729.9 784.8 729.9M140.8 838.7C463 838.7 463 781.5 784.8 781.5M140.8 839.6C463 839.6 463 827.2 784.8 827.2M140.8 839.8C463 839.8 463 830.8 784.8 830.8M140.8 839.8C463 839.8 463 834.4 784.8 834.4M140.8 839.9C463 839.9 463 837.2 784.8 837.2M140.8 840.1C463 840.1 463 867.0 784.8 867.0M140.8 840.3C463 840.3 463 872.4 784.8 872.4M140.8 840.5C463 840.5 463 914.1 784.8 914.1M140.8 840.7C463 840.7 463 926.0 784.8 926.0M140.8 872.0C463 872.0 463 676.3 784.8 676.3M140.8 872.1C463 872.1 463 698.3 784.8 698.3M140.8 872.3C463 872.3 463 771.9 784.8 771.9M140.8 873.3C463 873.3 463 834.8 784.8 834.8M140.8 873.5C463 873.5 463 841.7 784.8 841.7M140.8 873.6C463 873.6 463 846.9 784.8 846.9M140.8 873.7C463 873.7 463 873.3 784.8 873.3"/></g><g stroke="#d878a8" stroke-opacity="0.38"><path stroke-width="0.55" d="M140.8 835.0C463 835.0 463 729.1 784.8 729.1"/></g><g stroke="#96cdc6" stroke-opacity="0.46"><path stroke-width="0.55" d="M140.8 681.5C463 681.5 463 868.3 784.8 868.3"/></g><g stroke="#e07ca8" stroke-opacity="0.23"><path stroke-width="0.55" d="M140.8 769.6C463 769.6 463 777.3 784.8 777.3M140.8 769.7C463 769.7 463 830.3 784.8 830.3M140.8 769.9C463 769.9 463 846.0 784.8 846.0M140.8 770.0C463 770.0 463 880.1 784.8 880.1M140.8 770.2C463 770.2 463 908.0 784.8 908.0M140.8 849.1C463 849.1 463 761.3 784.8 761.3M140.8 849.2C463 849.2 463 771.7 784.8 771.7M140.8 849.3C463 849.3 463 837.3 784.8 837.3M140.8 849.4C463 849.4 463 841.5 784.8 841.5M140.8 850.3C463 850.3 463 882.3 784.8 882.3M140.8 850.9C463 850.9 463 887.1 784.8 887.1M140.8 851.1C463 851.1 463 898.7 784.8 898.7M140.8 862.7C463 862.7 463 676.3 784.8 676.3M140.8 862.8C463 862.8 463 692.4 784.8 692.4M140.8 864.0C463 864.0 463 831.0 784.8 831.0M140.8 864.5C463 864.5 463 877.5 784.8 877.5M140.8 864.6C463 864.6 463 882.4 784.8 882.4M140.8 864.7C463 864.7 463 900.2 784.8 900.2M140.8 897.8C463 897.8 463 682.0 784.8 682.0M140.8 898.9C463 898.9 463 885.8 784.8 885.8"/></g><g stroke="#eedb90" stroke-opacity="0.42"><path stroke-width="0.55" d="M140.8 801.1C463 801.1 463 768.5 784.8 768.5"/></g><g stroke="#f4ead0" stroke-opacity="0.5"><path stroke-width="0.6" d="M140.8 761.4C463 761.4 463 907.7 784.8 907.7"/></g><g stroke="#8a68bc" stroke-opacity="0.34"><path stroke-width="0.55" d="M140.8 907.9C463 907.9 463 782.6 784.8 782.6"/></g><g stroke="#f4b880" stroke-opacity="0.46"><path stroke-width="0.55" d="M140.8 858.9C463 858.9 463 809.0 784.8 809.0"/></g><g stroke="#eedb90" stroke-opacity="0.33"><path stroke-width="0.55" d="M140.8 742.5C463 742.5 463 894.0 784.8 894.0"/></g><g stroke="#85706a" stroke-opacity="0.23"><path stroke-width="0.55" d="M140.8 763.4C463 763.4 463 770.1 784.8 770.1M140.8 763.5C463 763.5 463 772.2 784.8 772.2M140.8 764.6C463 764.6 463 826.4 784.8 826.4M140.8 764.7C463 764.7 463 839.3 784.8 839.3M140.8 764.7C463 764.7 463 859.8 784.8 859.8M140.8 764.9C463 764.9 463 876.4 784.8 876.4M140.8 764.9C463 764.9 463 879.9 784.8 879.9M140.8 765.0C463 765.0 463 885.0 784.8 885.0M140.8 765.1C463 765.1 463 889.6 784.8 889.6M140.8 765.2C463 765.2 463 899.8 784.8 899.8M140.8 765.3C463 765.3 463 924.9 784.8 924.9M140.8 824.8C463 824.8 463 691.5 784.8 691.5M140.8 825.8C463 825.8 463 754.0 784.8 754.0M140.8 825.9C463 825.9 463 770.4 784.8 770.4M140.8 826.1C463 826.1 463 772.4 784.8 772.4M140.8 827.4C463 827.4 463 850.5 784.8 850.5M140.8 827.9C463 827.9 463 866.4 784.8 866.4M140.8 828.2C463 828.2 463 875.5 784.8 875.5M140.8 828.3C463 828.3 463 889.9 784.8 889.9M140.8 828.5C463 828.5 463 900.0 784.8 900.0M140.8 828.9C463 828.9 463 925.8 784.8 925.8M140.8 889.6C463 889.6 463 693.0 784.8 693.0M140.8 889.7C463 889.7 463 698.5 784.8 698.5M140.8 890.5C463 890.5 463 758.0 784.8 758.0M140.8 890.6C463 890.6 463 770.7 784.8 770.7M140.8 890.7C463 890.7 463 773.0 784.8 773.0M140.8 891.8C463 891.8 463 827.9 784.8 827.9M140.8 891.9C463 891.9 463 835.3 784.8 835.3M140.8 892.0C463 892.0 463 838.9 784.8 838.9M140.8 893.1C463 893.1 463 855.7 784.8 855.7M140.8 893.3C463 893.3 463 863.3 784.8 863.3M140.8 893.4C463 893.4 463 875.8 784.8 875.8M140.8 893.5C463 893.5 463 883.2 784.8 883.2"/></g><g stroke="#eedb90" stroke-opacity="0.49"><path stroke-width="0.55" d="M140.8 807.7C463 807.7 463 863.8 784.8 863.8"/></g><g stroke="#e080b0" stroke-opacity="0.45"><path stroke-width="0.55" d="M140.8 755.1C463 755.1 463 711.6 784.8 711.6"/></g><g stroke="#f6c8a8" stroke-opacity="0.4"><path stroke-width="0.55" d="M140.8 676.8C463 676.8 463 900.8 784.8 900.8"/></g><g stroke="#8a68bc" stroke-opacity="0.23"><path stroke-width="0.55" d="M140.8 773.6C463 773.6 463 674.0 784.8 674.0M140.8 773.7C463 773.7 463 697.8 784.8 697.8M140.8 775.0C463 775.0 463 753.5 784.8 753.5M140.8 775.2C463 775.2 463 761.0 784.8 761.0M140.8 775.9C463 775.9 463 770.3 784.8 770.3M140.8 778.5C463 778.5 463 801.5 784.8 801.5M140.8 778.8C463 778.8 463 826.6 784.8 826.6M140.8 779.0C463 779.0 463 836.5 784.8 836.5M140.8 779.1C463 779.1 463 841.3 784.8 841.3M140.8 779.2C463 779.2 463 846.2 784.8 846.2M140.8 779.4C463 779.4 463 849.1 784.8 849.1M140.8 779.9C463 779.9 463 870.9 784.8 870.9M140.8 780.4C463 780.4 463 889.7 784.8 889.7M140.8 780.6C463 780.6 463 894.4 784.8 894.4M140.8 780.7C463 780.7 463 899.9 784.8 899.9M140.8 843.8C463 843.8 463 770.5 784.8 770.5M140.8 843.9C463 843.9 463 807.6 784.8 807.6M140.8 844.1C463 844.1 463 850.7 784.8 850.7M140.8 852.1C463 852.1 463 766.6 784.8 766.6M140.8 852.9C463 852.9 463 867.5 784.8 867.5M140.8 853.1C463 853.1 463 914.7 784.8 914.7M140.8 867.0C463 867.0 463 831.1 784.8 831.1M140.8 867.2C463 867.2 463 877.6 784.8 877.6M140.8 867.3C463 867.3 463 887.3 784.8 887.3M140.8 867.4C463 867.4 463 890.2 784.8 890.2M140.8 900.4C463 900.4 463 693.2 784.8 693.2M140.8 907.1C463 907.1 463 763.6 784.8 763.6M140.8 907.7C463 907.7 463 770.9 784.8 770.9M140.8 915.2C463 915.2 463 841.9 784.8 841.9M140.8 915.3C463 915.3 463 847.4 784.8 847.4M140.8 916.9C463 916.9 463 864.6 784.8 864.6M140.8 917.0C463 917.0 463 873.8 784.8 873.8M140.8 917.8C463 917.8 463 893.6 784.8 893.6M140.8 921.6C463 921.6 463 926.4 784.8 926.4"/></g><g stroke="#e07ca8" stroke-opacity="0.44"><path stroke-width="0.55" d="M140.8 848.9C463 848.9 463 733.6 784.8 733.6"/></g><g stroke="#e07ca8" stroke-opacity="0.3"><path stroke-width="0.55" d="M140.8 864.2C463 864.2 463 850.9 784.8 850.9"/></g><g stroke="#e07ca8" stroke-opacity="0.45"><path stroke-width="0.55" d="M140.8 850.6C463 850.6 463 885.4 784.8 885.4"/></g><g stroke="#f4d0dc" stroke-opacity="0.5"><path stroke-width="1.43" d="M140.8 771.3C463 771.3 463 800.7 784.8 800.7"/></g><g stroke="#85706a" stroke-opacity="0.31"><path stroke-width="0.55" d="M140.8 827.6C463 827.6 463 860.6 784.8 860.6"/></g><g stroke="#f0dc98" stroke-opacity="0.23"><path stroke-width="0.55" d="M140.8 922.7C463 922.7 463 771.0 784.8 771.0M140.8 923.5C463 923.5 463 835.5 784.8 835.5M140.8 923.7C463 923.7 463 867.9 784.8 867.9M140.8 924.0C463 924.0 463 921.1 784.8 921.1"/></g><g stroke="#f4b880" stroke-opacity="0.25"><path stroke-width="0.55" d="M140.8 859.9C463 859.9 463 914.9 784.8 914.9"/></g><g stroke="#e080b0" stroke-opacity="0.23"><path stroke-width="0.55" d="M140.8 754.7C463 754.7 463 678.9 784.8 678.9M140.8 754.8C463 754.8 463 697.6 784.8 697.6M140.8 755.8C463 755.8 463 830.2 784.8 830.2M140.8 755.9C463 755.9 463 833.5 784.8 833.5M140.8 756.6C463 756.6 463 879.4 784.8 879.4"/></g><g stroke="#eedb90" stroke-opacity="0.35"><path stroke-width="0.55" d="M140.8 806.5C463 806.5 463 855.4 784.8 855.4"/></g><g stroke="#e0ccb8" stroke-opacity="0.32"><path stroke-width="0.55" d="M140.8 821.8C463 821.8 463 726.4 784.8 726.4"/></g><g stroke="#8a68bc" stroke-opacity="0.3"><path stroke-width="0.55" d="M140.8 916.1C463 916.1 463 855.9 784.8 855.9"/></g><g stroke="#eedb90" stroke-opacity="0.25"><path stroke-width="0.55" d="M140.8 800.8C463 800.8 463 766.3 784.8 766.3"/></g><g stroke="#e07ca8" stroke-opacity="0.32"><path stroke-width="0.55" d="M140.8 849.7C463 849.7 463 867.3 784.8 867.3"/></g><g stroke="#f8e8f0" stroke-opacity="0.39"><path stroke-width="0.55" d="M140.8 837.3C463 837.3 463 729.6 784.8 729.6"/></g><g stroke="#f4b880" stroke-opacity="0.23"><path stroke-width="0.55" d="M140.8 855.3C463 855.3 463 692.3 784.8 692.3M140.8 855.3C463 855.3 463 699.1 784.8 699.1M140.8 858.6C463 858.6 463 771.8 784.8 771.8M140.8 859.2C463 859.2 463 834.6 784.8 834.6M140.8 859.4C463 859.4 463 873.2 784.8 873.2M140.8 859.5C463 859.5 463 887.2 784.8 887.2M140.8 859.6C463 859.6 463 892.9 784.8 892.9"/></g><g stroke="#dccab6" stroke-opacity="0.23"><path stroke-width="0.55" d="M140.8 684.2C463 684.2 463 677.5 784.8 677.5M140.8 684.3C463 684.3 463 693.4 784.8 693.4M140.8 685.9C463 685.9 463 754.6 784.8 754.6M140.8 686.1C463 686.1 463 762.1 784.8 762.1M140.8 686.3C463 686.3 463 771.1 784.8 771.1M140.8 686.4C463 686.4 463 772.1 784.8 772.1M140.8 689.8C463 689.8 463 825.2 784.8 825.2M140.8 689.9C463 689.9 463 839.1 784.8 839.1M140.8 690.0C463 690.0 463 842.3 784.8 842.3M140.8 690.0C463 690.0 463 845.2 784.8 845.2M140.8 691.0C463 691.0 463 862.2 784.8 862.2M140.8 691.2C463 691.2 463 878.0 784.8 878.0M140.8 691.4C463 691.4 463 891.2 784.8 891.2"/></g><g stroke="#a0a8c0" stroke-opacity="0.23"><path stroke-width="0.55" d="M140.8 885.1C463 885.1 463 681.6 784.8 681.6M140.8 886.2C463 886.2 463 827.7 784.8 827.7M140.8 886.4C463 886.4 463 835.0 784.8 835.0M140.8 886.6C463 886.6 463 851.2 784.8 851.2"/></g><g stroke="#f4ead0" stroke-opacity="0.38"><path stroke-width="0.55" d="M140.8 760.6C463 760.6 463 712.6 784.8 712.6"/></g><g stroke="#85706a" stroke-opacity="0.29"><path stroke-width="0.55" d="M140.8 827.1C463 827.1 463 805.0 784.8 805.0"/></g><g stroke="#96cdc6" stroke-opacity="0.26"><path stroke-width="0.55" d="M140.8 677.1C463 677.1 463 677.3 784.8 677.3"/></g><g stroke="#e0b0d8" stroke-opacity="0.5"><path stroke-width="0.74" d="M140.8 695.8C463 695.8 463 789.9 784.8 789.9"/></g><g stroke="#d878a8" stroke-opacity="0.23"><path stroke-width="0.55" d="M140.8 834.6C463 834.6 463 675.6 784.8 675.6M140.8 834.7C463 834.7 463 694.9 784.8 694.9M140.8 835.3C463 835.3 463 757.6 784.8 757.6M140.8 836.2C463 836.2 463 826.8 784.8 826.8M140.8 836.2C463 836.2 463 830.7 784.8 830.7M140.8 836.3C463 836.3 463 834.3 784.8 834.3M140.8 836.6C463 836.6 463 866.9 784.8 866.9M140.8 836.7C463 836.7 463 886.8 784.8 886.8M140.8 836.8C463 836.8 463 890.0 784.8 890.0M140.8 836.9C463 836.9 463 895.8 784.8 895.8M140.8 837.0C463 837.0 463 925.9 784.8 925.9"/></g><g stroke="#b0a098" stroke-opacity="0.23"><path stroke-width="0.55" d="M140.8 845.5C463 845.5 463 680.0 784.8 680.0M140.8 845.6C463 845.6 463 699.1 784.8 699.1M140.8 846.9C463 846.9 463 761.3 784.8 761.3M140.8 847.4C463 847.4 463 840.2 784.8 840.2M140.8 847.5C463 847.5 463 843.7 784.8 843.7M140.8 847.7C463 847.7 463 846.7 784.8 846.7M140.8 847.8C463 847.8 463 872.7 784.8 872.7M140.8 847.9C463 847.9 463 882.2 784.8 882.2M140.8 847.9C463 847.9 463 887.0 784.8 887.0M140.8 848.1C463 848.1 463 896.1 784.8 896.1"/></g><g stroke="#eedb90" stroke-opacity="0.28"><path stroke-width="0.55" d="M140.8 789.1C463 789.1 463 698.0 784.8 698.0"/></g><g stroke="#8a68bc" stroke-opacity="0.29"><path stroke-width="0.55" d="M140.8 779.7C463 779.7 463 865.4 784.8 865.4"/></g><g stroke="#f6c8a8" stroke-opacity="0.23"><path stroke-width="0.55" d="M140.8 674.2C463 674.2 463 677.1 784.8 677.1M140.8 674.4C463 674.4 463 684.2 784.8 684.2M140.8 676.0C463 676.0 463 783.0 784.8 783.0M140.8 676.1C463 676.1 463 832.1 784.8 832.1M140.8 676.3C463 676.3 463 842.0 784.8 842.0M140.8 676.4C463 676.4 463 862.0 784.8 862.0M140.8 676.5C463 676.5 463 893.7 784.8 893.7"/></g><g stroke="#9a78c8" stroke-opacity="0.27"><path stroke-width="0.55" d="M140.8 882.8C463 882.8 463 847.1 784.8 847.1"/></g><g stroke="#8a68bc" stroke-opacity="0.27"><path stroke-width="0.55" d="M140.8 918.7C463 918.7 463 900.4 784.8 900.4"/></g><g stroke="#eedb90" stroke-opacity="0.39"><path stroke-width="0.55" d="M140.8 813.4C463 813.4 463 892.6 784.8 892.6"/></g><g stroke="#f0e8e8" stroke-opacity="0.23"><path stroke-width="0.55" d="M140.8 844.8C463 844.8 463 772.7 784.8 772.7M140.8 845.1C463 845.1 463 864.2 784.8 864.2M140.8 845.2C463 845.2 463 872.6 784.8 872.6M140.8 845.4C463 845.4 463 895.9 784.8 895.9"/></g><g stroke="#eedb90" stroke-opacity="0.36"><path stroke-width="0.55" d="M140.8 759.9C463 759.9 463 879.7 784.8 879.7"/></g><g stroke="#f4c08c" stroke-opacity="0.23"><path stroke-width="0.55" d="M140.8 924.5C463 924.5 463 754.5 784.8 754.5M140.8 924.6C463 924.6 463 767.0 784.8 767.0M140.8 924.7C463 924.7 463 769.5 784.8 769.5M140.8 924.8C463 924.8 463 782.9 784.8 782.9M140.8 925.7C463 925.7 463 847.5 784.8 847.5M140.8 925.8C463 925.8 463 868.0 784.8 868.0M140.8 925.9C463 925.9 463 883.8 784.8 883.8M140.8 926.0C463 926.0 463 890.8 784.8 890.8"/></g><g stroke="#eedb90" stroke-opacity="0.3"><path stroke-width="0.55" d="M140.8 742.9C463 742.9 463 899.5 784.8 899.5M140.8 782.0C463 782.0 463 674.2 784.8 674.2"/></g><g stroke="#8fb4f6" stroke-opacity="0.37"><path stroke-width="0.55" d="M140.8 833.8C463 833.8 463 866.7 784.8 866.7M140.8 834.4C463 834.4 463 913.7 784.8 913.7"/></g><g stroke="#85706a" stroke-opacity="0.35"><path stroke-width="0.55" d="M140.8 828.7C463 828.7 463 913.3 784.8 913.3"/></g><g stroke="#e0ccb8" stroke-opacity="0.23"><path stroke-width="0.55" d="M140.8 821.5C463 821.5 463 691.4 784.8 691.4M140.8 822.1C463 822.1 463 766.5 784.8 766.5M140.8 822.2C463 822.2 463 780.6 784.8 780.6M140.8 824.1C463 824.1 463 830.7 784.8 830.7M140.8 824.2C463 824.2 463 834.2 784.8 834.2M140.8 824.4C463 824.4 463 850.4 784.8 850.4M140.8 824.5C463 824.5 463 854.2 784.8 854.2"/></g><g stroke="#e07ca8" stroke-opacity="0.5"><path stroke-width="1.39" d="M140.8 768.8C463 768.8 463 715.6 784.8 715.6"/><path stroke-width="0.57" d="M140.8 863.6C463 863.6 463 811.2 784.8 811.2"/><path stroke-width="0.74" d="M140.8 898.3C463 898.3 463 818.6 784.8 818.6"/></g><g stroke="#f4d0dc" stroke-opacity="0.23"><path stroke-width="0.55" d="M140.8 770.4C463 770.4 463 768.2 784.8 768.2M140.8 770.5C463 770.5 463 777.4 784.8 777.4M140.8 772.0C463 772.0 463 834.1 784.8 834.1M140.8 772.1C463 772.1 463 859.9 784.8 859.9"/></g><g stroke="#dccab6" stroke-opacity="0.5"><path stroke-width="1.39" d="M140.8 685.1C463 685.1 463 704.0 784.8 704.0"/><path stroke-width="3.3" d="M140.8 688.1C463 688.1 463 786.5 784.8 786.5"/></g><g stroke="#b0a098" stroke-opacity="0.5"><path stroke-width="1.25" d="M140.8 846.2C463 846.2 463 732.8 784.8 732.8"/></g><g stroke="#8a68bc" stroke-opacity="0.35"><path stroke-width="0.55" d="M140.8 907.4C463 907.4 463 769.3 784.8 769.3"/></g><g stroke="#8a68bc" stroke-opacity="0.5"><path stroke-width="1.18" d="M140.8 774.4C463 774.4 463 716.9 784.8 716.9"/><path stroke-width="0.58" d="M140.8 775.6C463 775.6 463 765.9 784.8 765.9"/><path stroke-width="2.44" d="M140.8 777.2C463 777.2 463 778.6 784.8 778.6"/><path stroke-width="0.98" d="M140.8 781.3C463 781.3 463 908.9 784.8 908.9"/><path stroke-width="1.64" d="M140.8 842.9C463 842.9 463 731.3 784.8 731.3"/><path stroke-width="0.64" d="M140.8 852.5C463 852.5 463 808.0 784.8 808.0"/><path stroke-width="1.24" d="M140.8 866.3C463 866.3 463 812.1 784.8 812.1"/><path stroke-width="0.72" d="M140.8 899.9C463 899.9 463 682.4 784.8 682.4"/><path stroke-width="0.62" d="M140.8 900.8C463 900.8 463 699.8 784.8 699.8"/><path stroke-width="5.53" d="M140.8 903.8C463 903.8 463 749.1 784.8 749.1"/><path stroke-width="4.79" d="M140.8 910.5C463 910.5 463 821.4 784.8 821.4"/><path stroke-width="0.67" d="M140.8 913.2C463 913.2 463 828.4 784.8 828.4"/><path stroke-width="0.66" d="M140.8 913.9C463 913.9 463 831.7 784.8 831.7"/><path stroke-width="0.85" d="M140.8 914.7C463 914.7 463 838.1 784.8 838.1"/><path stroke-width="0.61" d="M140.8 915.6C463 915.6 463 852.5 784.8 852.5M140.8 918.2C463 918.2 463 896.7 784.8 896.7"/><path stroke-width="0.59" d="M140.8 916.6C463 916.6 463 861.7 784.8 861.7"/><path stroke-width="2.64" d="M140.8 920.2C463 920.2 463 919.7 784.8 919.7"/></g><g stroke="#f8e8f0" stroke-opacity="0.23"><path stroke-width="0.55" d="M140.8 837.0C463 837.0 463 679.8 784.8 679.8M140.8 837.1C463 837.1 463 692.2 784.8 692.2M140.8 837.7C463 837.7 463 772.6 784.8 772.6M140.8 837.8C463 837.8 463 827.0 784.8 827.0M140.8 838.2C463 838.2 463 914.0 784.8 914.0M140.8 838.3C463 838.3 463 925.9 784.8 925.9"/></g><g stroke="#c8b0a0" stroke-opacity="0.29"><path stroke-width="0.55" d="M140.8 773.4C463 773.4 463 908.3 784.8 908.3"/></g><g stroke="#c0a890" stroke-opacity="0.23"><path stroke-width="0.55" d="M140.8 874.0C463 874.0 463 674.5 784.8 674.5M140.8 874.2C463 874.2 463 681.4 784.8 681.4M140.8 874.4C463 874.4 463 698.4 784.8 698.4M140.8 874.6C463 874.6 463 739.8 784.8 739.8M140.8 874.7C463 874.7 463 757.9 784.8 757.9M140.8 874.8C463 874.8 463 766.8 784.8 766.8M140.8 875.0C463 875.0 463 864.4 784.8 864.4M140.8 875.1C463 875.1 463 867.6 784.8 867.6M140.8 875.3C463 875.3 463 873.5 784.8 873.5M140.8 875.8C463 875.8 463 887.5 784.8 887.5M140.8 876.0C463 876.0 463 926.1 784.8 926.1"/></g></g><g shape-rendering="crispEdges"><rect x="107" y="673.0" width="33.8" height="1.3" fill="#a08ad8"/><rect x="107" y="674.1" width="33.8" height="3.1" fill="#f6c8a8"/><rect x="107" y="677.0" width="33.8" height="6.0" fill="#96cdc6"/><rect x="107" y="682.8" width="33.8" height="1.5" fill="#d8a0d0"/><rect x="107" y="684.1" width="33.8" height="7.9" fill="#dccab6"/><rect x="107" y="691.8" width="33.8" height="1.5" fill="#b07878"/><rect x="107" y="693.1" width="33.8" height="2.2" fill="#96cdc6"/><rect x="107" y="695.1" width="33.8" height="1.9" fill="#e0b0d8"/><rect x="107" y="696.8" width="33.8" height="53.2" fill="#eedb90"/><rect x="107" y="749.8" width="33.8" height="2.9" fill="#f4c0a8"/><rect x="107" y="752.5" width="33.8" height="2.3" fill="#96cdc6"/><rect x="107" y="754.6" width="33.8" height="2.3" fill="#e080b0"/><rect x="107" y="756.7" width="33.8" height="3.9" fill="#eedb90"/><rect x="107" y="760.4" width="33.8" height="1.5" fill="#f4ead0"/><rect x="107" y="761.7" width="33.8" height="3.9" fill="#85706a"/><rect x="107" y="765.4" width="33.8" height="2.9" fill="#8cb4f8"/><rect x="107" y="768.1" width="33.8" height="2.4" fill="#e07ca8"/><rect x="107" y="770.3" width="33.8" height="2.2" fill="#f4d0dc"/><rect x="107" y="772.3" width="33.8" height="1.5" fill="#c8b0a0"/><rect x="107" y="773.6" width="33.8" height="8.4" fill="#8a68bc"/><rect x="107" y="781.8" width="33.8" height="39.8" fill="#eedb90"/><rect x="107" y="821.4" width="33.8" height="3.6" fill="#e0ccb8"/><rect x="107" y="824.8" width="33.8" height="4.4" fill="#85706a"/><rect x="107" y="829.0" width="33.8" height="5.8" fill="#8fb4f6"/><rect x="107" y="834.6" width="33.8" height="2.6" fill="#d878a8"/><rect x="107" y="837.0" width="33.8" height="1.5" fill="#f8e8f0"/><rect x="107" y="838.3" width="33.8" height="2.6" fill="#eedb90"/><rect x="107" y="840.7" width="33.8" height="1.5" fill="#a0d0c8"/><rect x="107" y="842.0" width="33.8" height="2.4" fill="#8a68bc"/><rect x="107" y="844.2" width="33.8" height="1.5" fill="#f0e8e8"/><rect x="107" y="845.5" width="33.8" height="2.9" fill="#b0a098"/><rect x="107" y="848.2" width="33.8" height="3.5" fill="#e07ca8"/><rect x="107" y="851.5" width="33.8" height="1.8" fill="#8a68bc"/><rect x="107" y="853.1" width="33.8" height="1.5" fill="#f4ecc0"/><rect x="107" y="854.4" width="33.8" height="5.9" fill="#f4b880"/><rect x="107" y="860.1" width="33.8" height="2.8" fill="#a08078"/><rect x="107" y="862.7" width="33.8" height="2.5" fill="#e07ca8"/><rect x="107" y="865.0" width="33.8" height="3.2" fill="#8a68bc"/><rect x="107" y="868.0" width="33.8" height="4.2" fill="#f8d8e8"/><rect x="107" y="872.0" width="33.8" height="2.2" fill="#eedb90"/><rect x="107" y="874.0" width="33.8" height="2.2" fill="#c0a890"/><rect x="107" y="876.0" width="33.8" height="6.3" fill="#8fb4f6"/><rect x="107" y="882.1" width="33.8" height="1.3" fill="#9a78c8"/><rect x="107" y="883.2" width="33.8" height="2.1" fill="#f8d8e8"/><rect x="107" y="885.1" width="33.8" height="2.0" fill="#a0a8c0"/><rect x="107" y="886.9" width="33.8" height="2.8" fill="#f8d8e8"/><rect x="107" y="889.5" width="33.8" height="4.7" fill="#85706a"/><rect x="107" y="894.0" width="33.8" height="3.9" fill="#8fb4f6"/><rect x="107" y="897.7" width="33.8" height="1.5" fill="#e07ca8"/><rect x="107" y="899.0" width="33.8" height="22.9" fill="#8a68bc"/><rect x="107" y="921.7" width="33.8" height="2.6" fill="#f0dc98"/><rect x="107" y="924.1" width="33.8" height="2.6" fill="#f4c08c"/><rect x="784.8" y="673.0" width="33.6" height="1.8" fill="#a08ad8"/><rect x="784.8" y="674.6" width="33.6" height="2.6" fill="#f6c8a8"/><rect x="784.8" y="677.0" width="33.6" height="6.0" fill="#96cdc6"/><rect x="784.8" y="682.8" width="33.6" height="1.5" fill="#d8a0d0"/><rect x="784.8" y="684.1" width="33.6" height="9.4" fill="#dccab6"/><rect x="784.8" y="693.3" width="33.6" height="2.0" fill="#b07878"/><rect x="784.8" y="695.1" width="33.6" height="3.7" fill="#96cdc6"/><rect x="784.8" y="698.6" width="33.6" height="1.8" fill="#e0b0d8"/><rect x="784.8" y="700.2" width="33.6" height="53.1" fill="#eedb90"/><rect x="784.8" y="753.1" width="33.6" height="1.6" fill="#f4c0a8"/><rect x="784.8" y="754.5" width="33.6" height="3.7" fill="#96cdc6"/><rect x="784.8" y="758.0" width="33.6" height="1.9" fill="#e080b0"/><rect x="784.8" y="759.7" width="33.6" height="2.5" fill="#eedb90"/><rect x="784.8" y="762.0" width="33.6" height="1.9" fill="#f4ead0"/><rect x="784.8" y="763.7" width="33.6" height="3.5" fill="#85706a"/><rect x="784.8" y="767.0" width="33.6" height="2.8" fill="#8cb4f8"/><rect x="784.8" y="769.6" width="33.6" height="1.6" fill="#e07ca8"/><rect x="784.8" y="771.0" width="33.6" height="1.2" fill="#f4d0dc"/><rect x="784.8" y="772.0" width="33.6" height="1.2" fill="#c8b0a0"/><rect x="784.8" y="773.0" width="33.6" height="10.1" fill="#8a68bc"/><rect x="784.8" y="782.9" width="33.6" height="42.4" fill="#eedb90"/><rect x="784.8" y="825.1" width="33.6" height="3.9" fill="#e0ccb8"/><rect x="784.8" y="828.8" width="33.6" height="3.4" fill="#85706a"/><rect x="784.8" y="832.0" width="33.6" height="3.8" fill="#8fb4f6"/><rect x="784.8" y="835.6" width="33.6" height="3.1" fill="#d878a8"/><rect x="784.8" y="838.5" width="33.6" height="0.7" fill="#f8e8f0"/><rect x="784.8" y="839.0" width="33.6" height="1.7" fill="#eedb90"/><rect x="784.8" y="840.5" width="33.6" height="1.7" fill="#a0d0c8"/><rect x="784.8" y="842.0" width="33.6" height="2.4" fill="#8a68bc"/><rect x="784.8" y="844.2" width="33.6" height="0.6" fill="#f0e8e8"/><rect x="784.8" y="844.6" width="33.6" height="3.1" fill="#dcc4a0"/><rect x="784.8" y="847.5" width="33.6" height="5.5" fill="#e07ca8"/><rect x="784.8" y="852.8" width="33.6" height="1.8" fill="#8a68bc"/><rect x="784.8" y="854.4" width="33.6" height="1.9" fill="#f4ecc0"/><rect x="784.8" y="856.1" width="33.6" height="6.1" fill="#f4b880"/><rect x="784.8" y="862.0" width="33.6" height="1.6" fill="#a08078"/><rect x="784.8" y="863.4" width="33.6" height="1.5" fill="#e07ca8"/><rect x="784.8" y="864.7" width="33.6" height="3.5" fill="#8a68bc"/><rect x="784.8" y="868.0" width="33.6" height="6.1" fill="#f8d8e8"/><rect x="784.8" y="873.9" width="33.6" height="2.2" fill="#eedb90"/><rect x="784.8" y="875.9" width="33.6" height="2.2" fill="#c0a890"/><rect x="784.8" y="877.9" width="33.6" height="6.1" fill="#8fb4f6"/><rect x="784.8" y="883.8" width="33.6" height="2.2" fill="#9a78c8"/><rect x="784.8" y="885.8" width="33.6" height="2.6" fill="#f8d8e8"/><rect x="784.8" y="888.2" width="33.6" height="2.8" fill="#a0a8c0"/><rect x="784.8" y="890.8" width="33.6" height="3.1" fill="#f8d8e8"/><rect x="784.8" y="893.7" width="33.6" height="3.5" fill="#85706a"/><rect x="784.8" y="897.0" width="33.6" height="2.5" fill="#8fb4f6"/><rect x="784.8" y="899.3" width="33.6" height="1.5" fill="#e07ca8"/><rect x="784.8" y="900.6" width="33.6" height="21.3" fill="#8a68bc"/><rect x="784.8" y="921.7" width="33.6" height="2.0" fill="#f0dc98"/><rect x="784.8" y="923.5" width="33.6" height="3.2" fill="#f4c08c"/></g><defs><filter id="hs" x="-5%" y="-30%" width="110%" height="170%"><feDropShadow dx="0" dy="3" stdDeviation="3" flood-color="#5a4a20" flood-opacity=".45"/></filter></defs><path d="M100 721.4C439.5 721.4 439.5 803.4 779 803.4" fill="none" stroke="#f2a900" stroke-width="17.6" filter="url(#hs)"/><path d="M241.3 788.9H339.3L349.6 764.2L359.9 788.9H461.8V841.7H241.3Z" fill="#0077cc"/></svg>
<div class="t" style="left:241px;top:806px;width:221px;text-align:center;font-size:18.5px;font-weight:bold;color:#fff;letter-spacing:1.05px" id="tip">CN <span style="font-family:DejaVu Sans,sans-serif;font-size:17px;letter-spacing:0">→</span> IN 55 (3.4%)</div>
<div class="t" style="left:147.3px;top:797px;font-size:9.2px;font-weight:bold;color:#000">IN</div>
<div class="t" style="left:147.3px;top:905px;font-size:9.2px;font-weight:bold;color:#000">US</div>
<div class="t" style="left:765.3px;top:721.5px;font-size:9.2px;font-weight:bold;color:#000">CN</div>
<div class="t" style="left:765.3px;top:905.5px;font-size:9.2px;font-weight:bold;color:#000">US</div>
</body>
</html>
